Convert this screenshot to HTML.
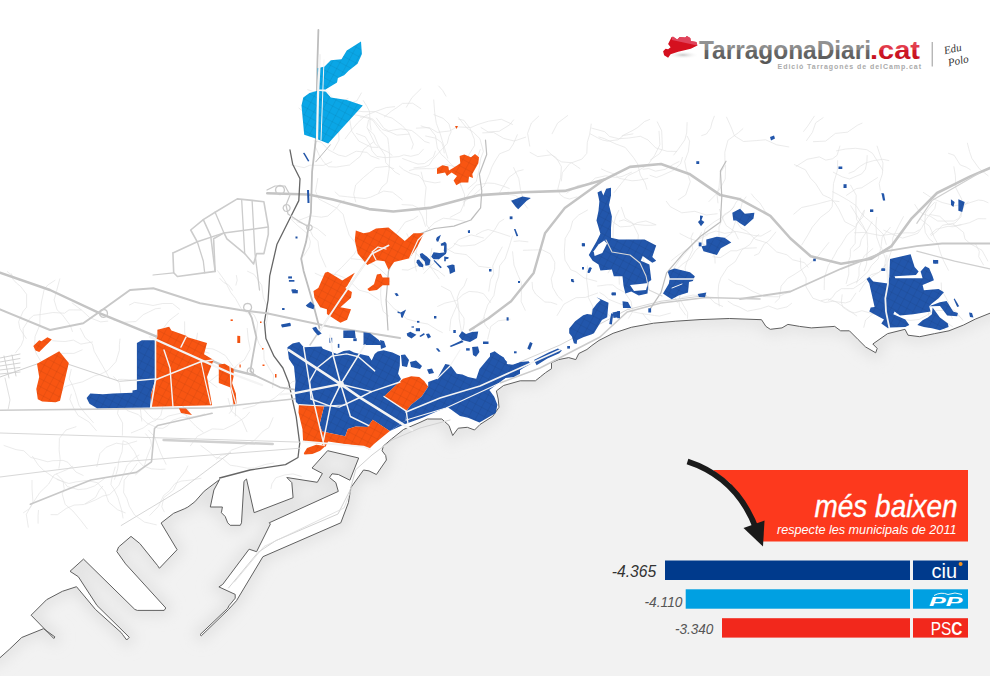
<!DOCTYPE html>
<html><head><meta charset="utf-8"><style>
html,body{margin:0;padding:0;background:#fff;}
#wrap{position:relative;width:990px;height:676px;overflow:hidden;font-family:"Liberation Sans",sans-serif;}
svg{position:absolute;left:0;top:0;}
</style></head><body><div id="wrap">
<svg width="990" height="676" viewBox="0 0 990 676">
<defs><filter id="sh" x="-5%" y="-5%" width="110%" height="110%"><feGaussianBlur stdDeviation="7"/></filter><clipPath id="seaclip"><polygon points="-20.0,700.0 -20.0,666.0 0.0,657.7 9.3,649.4 21.7,637.5 43.5,628.7 54.9,636.9 53.8,638.5 31.1,615.2 46.6,599.7 62.4,591.3 76.5,586.7 95.5,609.5 121.3,632.7 122.7,634.7 126.7,640.0 129.3,637.3 97.0,605.5 78.3,576.7 70.0,571.3 83.5,559.1 134.8,609.4 137.3,610.4 164.2,610.4 165.8,608.0 125.6,563.9 116.8,551.5 118.6,547.0 131.0,536.4 139.8,543.5 157.6,565.6 159.4,568.3 177.1,549.7 161.1,523.0 173.6,513.3 184.2,508.9 187.8,507.1 194.8,501.8 204.2,491.2 219.6,479.5 213.9,490.0 210.3,507.0 222.4,507.0 221.4,512.7 225.2,516.5 227.7,522.8 230.2,525.3 240.3,525.3 241.5,522.8 244.0,481.3 246.5,479.0 254.1,512.7 293.1,497.7 291.8,482.6 286.8,477.5 317.3,482.3 322.4,473.5 312.0,468.0 327.6,450.7 358.7,458.0 349.9,480.2 338.4,474.5 332.0,473.8 329.5,477.5 335.8,482.6 338.3,491.4 269.2,522.8 270.4,524.0 256.6,551.7 249.1,549.2 222.7,584.4 218.9,586.9 235.2,594.4 235.2,598.2 229.0,605.7 227.7,608.3 200.0,634.7 201.3,635.8 228.5,609.5 236.5,600.7 262.9,556.7 340.8,522.8 348.4,502.7 350.9,487.6 363.5,470.0 369.0,470.9 376.4,474.5 386.4,460.0 385.7,455.5 382.1,450.8 383.3,446.1 391.6,439.0 403.5,429.5 420.0,422.4 427.3,419.0 441.8,419.0 449.0,425.5 452.7,435.5 458.2,428.2 467.3,427.3 474.5,430.0 480.0,424.5 492.7,416.4 499.0,407.3 498.2,399.0 496.4,390.9 503.6,385.5 520.2,380.8 535.4,380.8 540.4,376.8 545.5,372.7 551.5,368.7 551.5,362.6 558.6,359.6 568.7,357.6 575.8,359.6 578.8,353.5 586.9,349.5 591.9,345.5 599.0,340.4 613.1,333.3 631.3,327.3 653.5,323.2 675.8,321.2 700.0,319.6 729.3,318.5 761.5,319.7 765.9,326.4 770.3,329.3 782.0,327.9 787.9,324.4 799.6,326.4 811.3,327.9 834.7,326.4 840.6,330.8 849.4,330.8 858.2,339.6 865.5,346.9 875.7,352.8 877.2,348.4 872.8,344.0 887.5,333.7 905.0,329.3 908.0,335.2 919.7,336.7 934.3,333.7 949.0,330.8 963.6,325.0 975.3,319.1 990.0,313.2 1020.0,301.0 1020.0,700.0" /></clipPath></defs>
<polygon points="-20.0,700.0 -20.0,666.0 0.0,657.7 9.3,649.4 21.7,637.5 43.5,628.7 54.9,636.9 53.8,638.5 31.1,615.2 46.6,599.7 62.4,591.3 76.5,586.7 95.5,609.5 121.3,632.7 122.7,634.7 126.7,640.0 129.3,637.3 97.0,605.5 78.3,576.7 70.0,571.3 83.5,559.1 134.8,609.4 137.3,610.4 164.2,610.4 165.8,608.0 125.6,563.9 116.8,551.5 118.6,547.0 131.0,536.4 139.8,543.5 157.6,565.6 159.4,568.3 177.1,549.7 161.1,523.0 173.6,513.3 184.2,508.9 187.8,507.1 194.8,501.8 204.2,491.2 219.6,479.5 213.9,490.0 210.3,507.0 222.4,507.0 221.4,512.7 225.2,516.5 227.7,522.8 230.2,525.3 240.3,525.3 241.5,522.8 244.0,481.3 246.5,479.0 254.1,512.7 293.1,497.7 291.8,482.6 286.8,477.5 317.3,482.3 322.4,473.5 312.0,468.0 327.6,450.7 358.7,458.0 349.9,480.2 338.4,474.5 332.0,473.8 329.5,477.5 335.8,482.6 338.3,491.4 269.2,522.8 270.4,524.0 256.6,551.7 249.1,549.2 222.7,584.4 218.9,586.9 235.2,594.4 235.2,598.2 229.0,605.7 227.7,608.3 200.0,634.7 201.3,635.8 228.5,609.5 236.5,600.7 262.9,556.7 340.8,522.8 348.4,502.7 350.9,487.6 363.5,470.0 369.0,470.9 376.4,474.5 386.4,460.0 385.7,455.5 382.1,450.8 383.3,446.1 391.6,439.0 403.5,429.5 420.0,422.4 427.3,419.0 441.8,419.0 449.0,425.5 452.7,435.5 458.2,428.2 467.3,427.3 474.5,430.0 480.0,424.5 492.7,416.4 499.0,407.3 498.2,399.0 496.4,390.9 503.6,385.5 520.2,380.8 535.4,380.8 540.4,376.8 545.5,372.7 551.5,368.7 551.5,362.6 558.6,359.6 568.7,357.6 575.8,359.6 578.8,353.5 586.9,349.5 591.9,345.5 599.0,340.4 613.1,333.3 631.3,327.3 653.5,323.2 675.8,321.2 700.0,319.6 729.3,318.5 761.5,319.7 765.9,326.4 770.3,329.3 782.0,327.9 787.9,324.4 799.6,326.4 811.3,327.9 834.7,326.4 840.6,330.8 849.4,330.8 858.2,339.6 865.5,346.9 875.7,352.8 877.2,348.4 872.8,344.0 887.5,333.7 905.0,329.3 908.0,335.2 919.7,336.7 934.3,333.7 949.0,330.8 963.6,325.0 975.3,319.1 990.0,313.2 1020.0,301.0 1020.0,700.0" fill="#f2f2f2"/>
<g clip-path="url(#seaclip)"><polygon points="-20.0,700.0 -20.0,666.0 0.0,657.7 9.3,649.4 21.7,637.5 43.5,628.7 54.9,636.9 53.8,638.5 31.1,615.2 46.6,599.7 62.4,591.3 76.5,586.7 95.5,609.5 121.3,632.7 122.7,634.7 126.7,640.0 129.3,637.3 97.0,605.5 78.3,576.7 70.0,571.3 83.5,559.1 134.8,609.4 137.3,610.4 164.2,610.4 165.8,608.0 125.6,563.9 116.8,551.5 118.6,547.0 131.0,536.4 139.8,543.5 157.6,565.6 159.4,568.3 177.1,549.7 161.1,523.0 173.6,513.3 184.2,508.9 187.8,507.1 194.8,501.8 204.2,491.2 219.6,479.5 213.9,490.0 210.3,507.0 222.4,507.0 221.4,512.7 225.2,516.5 227.7,522.8 230.2,525.3 240.3,525.3 241.5,522.8 244.0,481.3 246.5,479.0 254.1,512.7 293.1,497.7 291.8,482.6 286.8,477.5 317.3,482.3 322.4,473.5 312.0,468.0 327.6,450.7 358.7,458.0 349.9,480.2 338.4,474.5 332.0,473.8 329.5,477.5 335.8,482.6 338.3,491.4 269.2,522.8 270.4,524.0 256.6,551.7 249.1,549.2 222.7,584.4 218.9,586.9 235.2,594.4 235.2,598.2 229.0,605.7 227.7,608.3 200.0,634.7 201.3,635.8 228.5,609.5 236.5,600.7 262.9,556.7 340.8,522.8 348.4,502.7 350.9,487.6 363.5,470.0 369.0,470.9 376.4,474.5 386.4,460.0 385.7,455.5 382.1,450.8 383.3,446.1 391.6,439.0 403.5,429.5 420.0,422.4 427.3,419.0 441.8,419.0 449.0,425.5 452.7,435.5 458.2,428.2 467.3,427.3 474.5,430.0 480.0,424.5 492.7,416.4 499.0,407.3 498.2,399.0 496.4,390.9 503.6,385.5 520.2,380.8 535.4,380.8 540.4,376.8 545.5,372.7 551.5,368.7 551.5,362.6 558.6,359.6 568.7,357.6 575.8,359.6 578.8,353.5 586.9,349.5 591.9,345.5 599.0,340.4 613.1,333.3 631.3,327.3 653.5,323.2 675.8,321.2 700.0,319.6 729.3,318.5 761.5,319.7 765.9,326.4 770.3,329.3 782.0,327.9 787.9,324.4 799.6,326.4 811.3,327.9 834.7,326.4 840.6,330.8 849.4,330.8 858.2,339.6 865.5,346.9 875.7,352.8 877.2,348.4 872.8,344.0 887.5,333.7 905.0,329.3 908.0,335.2 919.7,336.7 934.3,333.7 949.0,330.8 963.6,325.0 975.3,319.1 990.0,313.2 1020.0,301.0 1020.0,700.0" fill="none" stroke="#e0e0e0" stroke-width="10" filter="url(#sh)"/></g>
<polygon points="-20.0,700.0 -20.0,666.0 0.0,657.7 9.3,649.4 21.7,637.5 43.5,628.7 54.9,636.9 53.8,638.5 31.1,615.2 46.6,599.7 62.4,591.3 76.5,586.7 95.5,609.5 121.3,632.7 122.7,634.7 126.7,640.0 129.3,637.3 97.0,605.5 78.3,576.7 70.0,571.3 83.5,559.1 134.8,609.4 137.3,610.4 164.2,610.4 165.8,608.0 125.6,563.9 116.8,551.5 118.6,547.0 131.0,536.4 139.8,543.5 157.6,565.6 159.4,568.3 177.1,549.7 161.1,523.0 173.6,513.3 184.2,508.9 187.8,507.1 194.8,501.8 204.2,491.2 219.6,479.5 213.9,490.0 210.3,507.0 222.4,507.0 221.4,512.7 225.2,516.5 227.7,522.8 230.2,525.3 240.3,525.3 241.5,522.8 244.0,481.3 246.5,479.0 254.1,512.7 293.1,497.7 291.8,482.6 286.8,477.5 317.3,482.3 322.4,473.5 312.0,468.0 327.6,450.7 358.7,458.0 349.9,480.2 338.4,474.5 332.0,473.8 329.5,477.5 335.8,482.6 338.3,491.4 269.2,522.8 270.4,524.0 256.6,551.7 249.1,549.2 222.7,584.4 218.9,586.9 235.2,594.4 235.2,598.2 229.0,605.7 227.7,608.3 200.0,634.7 201.3,635.8 228.5,609.5 236.5,600.7 262.9,556.7 340.8,522.8 348.4,502.7 350.9,487.6 363.5,470.0 369.0,470.9 376.4,474.5 386.4,460.0 385.7,455.5 382.1,450.8 383.3,446.1 391.6,439.0 403.5,429.5 420.0,422.4 427.3,419.0 441.8,419.0 449.0,425.5 452.7,435.5 458.2,428.2 467.3,427.3 474.5,430.0 480.0,424.5 492.7,416.4 499.0,407.3 498.2,399.0 496.4,390.9 503.6,385.5 520.2,380.8 535.4,380.8 540.4,376.8 545.5,372.7 551.5,368.7 551.5,362.6 558.6,359.6 568.7,357.6 575.8,359.6 578.8,353.5 586.9,349.5 591.9,345.5 599.0,340.4 613.1,333.3 631.3,327.3 653.5,323.2 675.8,321.2 700.0,319.6 729.3,318.5 761.5,319.7 765.9,326.4 770.3,329.3 782.0,327.9 787.9,324.4 799.6,326.4 811.3,327.9 834.7,326.4 840.6,330.8 849.4,330.8 858.2,339.6 865.5,346.9 875.7,352.8 877.2,348.4 872.8,344.0 887.5,333.7 905.0,329.3 908.0,335.2 919.7,336.7 934.3,333.7 949.0,330.8 963.6,325.0 975.3,319.1 990.0,313.2 1020.0,301.0 1020.0,700.0" fill="none" stroke="#606060" stroke-width="1.0"/>
<polyline points="371.2,130.4 370.2,124.7 369.5,111.5 366.9,106.3 363.1,100.3" fill="none" stroke="#e0e0e0" stroke-width="0.65" stroke-linejoin="round"/>
<polyline points="421.2,108.9 412.7,103.2 402.5,103.4 396.9,107.6 391.7,110.9 384.0,117.2" fill="none" stroke="#e0e0e0" stroke-width="0.65" stroke-linejoin="round"/>
<polyline points="425.6,226.7 422.3,216.4 417.6,207.7 412.7,205.2 401.6,204.6" fill="none" stroke="#e0e0e0" stroke-width="0.65" stroke-linejoin="round"/>
<polyline points="394.1,168.8 387.3,166.4 375.3,167.6 369.4,172.5 363.2,177.7 355.6,185.0 353.7,194.4 355.8,202.2" fill="none" stroke="#e0e0e0" stroke-width="0.65" stroke-linejoin="round"/>
<polyline points="505.3,194.1 515.4,195.4 521.6,200.2 527.8,208.5" fill="none" stroke="#e0e0e0" stroke-width="0.65" stroke-linejoin="round"/>
<polyline points="484.8,317.0 476.5,325.1 471.3,333.9" fill="none" stroke="#e0e0e0" stroke-width="0.65" stroke-linejoin="round"/>
<polyline points="457.7,303.5 453.5,313.1 450.8,319.5 449.6,331.1" fill="none" stroke="#e0e0e0" stroke-width="0.65" stroke-linejoin="round"/>
<polyline points="409.2,134.1 396.9,135.1 390.1,132.0 382.2,129.5 373.2,119.3 367.1,117.0 360.0,117.1" fill="none" stroke="#e0e0e0" stroke-width="0.65" stroke-linejoin="round"/>
<polyline points="406.7,233.4 410.7,242.4 412.7,250.0 421.7,259.0 423.4,269.8" fill="none" stroke="#e0e0e0" stroke-width="0.65" stroke-linejoin="round"/>
<polyline points="462.8,202.3 471.3,197.0 477.8,191.5 484.2,185.8 489.8,173.1 491.7,167.4 494.4,162.1 499.6,153.8 509.4,149.9 513.2,144.2 517.5,134.4" fill="none" stroke="#e0e0e0" stroke-width="0.65" stroke-linejoin="round"/>
<polyline points="510.2,236.5 497.0,232.1 488.0,229.5 482.4,231.3 476.0,234.9" fill="none" stroke="#e0e0e0" stroke-width="0.65" stroke-linejoin="round"/>
<polyline points="482.3,132.9 493.5,132.4 503.7,138.4 514.2,141.0 526.1,137.0" fill="none" stroke="#e0e0e0" stroke-width="0.65" stroke-linejoin="round"/>
<polyline points="378.3,147.4 371.2,147.2 358.8,141.1 351.7,131.1 349.7,119.6 344.6,111.4 341.0,107.6 333.6,106.4 322.5,108.5" fill="none" stroke="#e0e0e0" stroke-width="0.65" stroke-linejoin="round"/>
<polyline points="510.4,200.1 518.5,202.1 525.4,201.0" fill="none" stroke="#e0e0e0" stroke-width="0.65" stroke-linejoin="round"/>
<polyline points="437.3,306.6 444.7,303.2 456.8,300.4 463.0,294.5 469.1,291.4 477.9,292.1 483.5,293.7 490.7,302.7" fill="none" stroke="#e0e0e0" stroke-width="0.65" stroke-linejoin="round"/>
<polyline points="401.9,269.7 408.0,270.1 420.0,264.8 426.4,264.9 438.7,271.1 445.0,276.3" fill="none" stroke="#e0e0e0" stroke-width="0.65" stroke-linejoin="round"/>
<polyline points="420.7,125.8 430.0,128.7 435.5,135.7 437.3,148.0 441.1,154.2 446.4,159.0 451.2,164.5 455.8,168.6 457.9,176.6 461.1,186.3" fill="none" stroke="#e0e0e0" stroke-width="0.65" stroke-linejoin="round"/>
<polyline points="498.9,193.8 502.2,188.4 508.9,177.4 517.4,171.2 523.5,169.7" fill="none" stroke="#e0e0e0" stroke-width="0.65" stroke-linejoin="round"/>
<polyline points="326.5,109.5 322.4,98.2 314.5,91.9 307.4,89.6" fill="none" stroke="#e0e0e0" stroke-width="0.65" stroke-linejoin="round"/>
<polyline points="423.6,273.6 433.2,263.8 438.7,259.7 444.2,251.9 452.4,247.1 458.6,239.6 471.1,234.9 483.8,238.0" fill="none" stroke="#e0e0e0" stroke-width="0.65" stroke-linejoin="round"/>
<polyline points="344.6,200.2 339.9,203.4 336.7,208.0 327.7,216.1 321.4,217.2 310.6,215.8 298.5,220.5 291.8,218.6" fill="none" stroke="#e0e0e0" stroke-width="0.65" stroke-linejoin="round"/>
<polyline points="509.6,188.6 503.6,186.2 494.3,183.4 487.6,183.0 476.3,185.1 469.8,192.7 466.8,196.9 462.7,206.7 460.5,211.9 449.8,217.5" fill="none" stroke="#e0e0e0" stroke-width="0.65" stroke-linejoin="round"/>
<polyline points="513.8,119.6 509.7,124.8 499.1,131.3 488.0,131.9 480.7,127.3" fill="none" stroke="#e0e0e0" stroke-width="0.65" stroke-linejoin="round"/>
<polyline points="418.1,216.0 413.5,219.1 405.2,222.1 397.3,233.0 388.4,241.4 385.5,253.7 390.2,265.6" fill="none" stroke="#e0e0e0" stroke-width="0.65" stroke-linejoin="round"/>
<polyline points="399.8,174.7 395.1,172.1 385.7,162.5 384.9,155.2 377.7,143.9 374.1,134.8 367.6,128.5" fill="none" stroke="#e0e0e0" stroke-width="0.65" stroke-linejoin="round"/>
<polyline points="447.9,158.6 446.3,153.7 442.2,140.5 440.2,133.6 436.3,123.3 434.7,112.5 433.7,99.6" fill="none" stroke="#e0e0e0" stroke-width="0.65" stroke-linejoin="round"/>
<polyline points="513.5,167.3 518.8,178.6 520.4,189.2 522.6,197.0 527.5,200.8" fill="none" stroke="#e0e0e0" stroke-width="0.65" stroke-linejoin="round"/>
<polyline points="356.2,133.4 365.2,136.8 370.6,145.6 372.0,150.8 376.9,156.4 385.1,157.7 398.9,156.6 403.9,154.9 410.8,156.3 418.6,154.4 423.7,148.9" fill="none" stroke="#e0e0e0" stroke-width="0.65" stroke-linejoin="round"/>
<polyline points="444.3,153.3 443.4,147.6 441.7,142.5 435.3,138.1 425.3,135.9" fill="none" stroke="#e0e0e0" stroke-width="0.65" stroke-linejoin="round"/>
<polyline points="416.4,271.4 414.5,261.2 416.7,249.9 418.0,242.5 420.1,236.5 428.3,228.6 434.8,222.5 443.3,218.2 455.0,219.4 467.1,221.8" fill="none" stroke="#e0e0e0" stroke-width="0.65" stroke-linejoin="round"/>
<polyline points="303.5,256.3 309.5,246.8 310.4,241.6 307.7,233.8 298.0,225.9 290.3,218.5" fill="none" stroke="#e0e0e0" stroke-width="0.65" stroke-linejoin="round"/>
<polyline points="464.1,206.4 464.6,194.8 460.4,183.9 463.1,174.9 464.4,165.7 468.9,154.7 474.6,145.5 474.3,139.2 470.0,128.3 463.8,120.3 458.4,119.0" fill="none" stroke="#e0e0e0" stroke-width="0.65" stroke-linejoin="round"/>
<polyline points="359.1,252.9 354.9,242.3 349.2,235.2 345.0,221.9 343.2,214.3 336.4,207.9 331.3,205.4 318.9,199.1 315.5,191.3 317.9,178.1" fill="none" stroke="#e0e0e0" stroke-width="0.65" stroke-linejoin="round"/>
<polyline points="316.4,116.2 320.0,111.2 328.4,106.5 339.7,107.0 352.0,102.6 356.9,100.8 361.6,92.6" fill="none" stroke="#e0e0e0" stroke-width="0.65" stroke-linejoin="round"/>
<polyline points="399.2,166.0 403.8,169.9 410.8,173.5 419.1,175.7 423.5,180.8 435.0,182.9 440.5,182.0" fill="none" stroke="#e0e0e0" stroke-width="0.65" stroke-linejoin="round"/>
<polyline points="385.8,299.4 394.3,308.9 399.0,311.6 406.8,319.0 420.1,322.6 427.8,324.0 438.0,330.4 442.7,332.7" fill="none" stroke="#e0e0e0" stroke-width="0.65" stroke-linejoin="round"/>
<polyline points="467.6,189.0 476.3,181.5 478.9,170.2 480.7,158.6 483.4,151.5 479.9,138.7 473.3,132.2 466.8,128.1 458.2,117.3" fill="none" stroke="#e0e0e0" stroke-width="0.65" stroke-linejoin="round"/>
<polyline points="357.2,249.2 354.0,254.3 350.1,258.5 341.7,267.4 335.0,273.5 328.4,283.3 323.7,292.1 322.8,298.6 321.2,306.3" fill="none" stroke="#e0e0e0" stroke-width="0.65" stroke-linejoin="round"/>
<polyline points="381.0,285.2 380.6,293.9 381.3,303.6 383.2,311.4 388.9,316.3" fill="none" stroke="#e0e0e0" stroke-width="0.65" stroke-linejoin="round"/>
<polyline points="512.9,124.6 501.4,119.3 488.5,121.2 478.1,124.4 470.9,127.5 457.2,126.9 449.4,131.0 437.3,132.4 429.2,127.5 415.9,128.2" fill="none" stroke="#e0e0e0" stroke-width="0.65" stroke-linejoin="round"/>
<polyline points="504.2,219.0 499.1,222.2 494.2,230.5 484.6,240.0 474.9,244.9 465.9,245.8 460.5,246.0 453.9,243.4" fill="none" stroke="#e0e0e0" stroke-width="0.65" stroke-linejoin="round"/>
<polyline points="502.4,246.7 497.6,255.2 492.7,266.0 493.7,273.6 490.5,279.6 488.7,291.5" fill="none" stroke="#e0e0e0" stroke-width="0.65" stroke-linejoin="round"/>
<polyline points="300.3,221.3 309.0,227.6 312.8,236.1 317.9,241.2 319.5,252.4 321.5,257.2 326.0,267.3" fill="none" stroke="#e0e0e0" stroke-width="0.65" stroke-linejoin="round"/>
<polyline points="392.4,155.5 388.2,152.2 380.3,148.4 375.1,144.0 370.0,133.6 367.0,127.4 368.6,119.8" fill="none" stroke="#e0e0e0" stroke-width="0.65" stroke-linejoin="round"/>
<polyline points="480.4,149.2 478.3,154.8 472.9,163.8 464.6,168.1 459.1,167.6 446.1,164.6 441.3,166.6 432.9,168.8 426.2,168.6 414.8,169.0 409.1,170.7" fill="none" stroke="#e0e0e0" stroke-width="0.65" stroke-linejoin="round"/>
<polyline points="317.5,133.9 314.7,145.3 319.2,155.3 323.8,162.3 328.6,166.7 336.1,167.1 349.5,165.0 360.1,156.4 363.9,149.1 373.8,141.7" fill="none" stroke="#e0e0e0" stroke-width="0.65" stroke-linejoin="round"/>
<polyline points="395.1,106.6 386.2,107.6 375.3,111.6 365.4,115.7 357.6,122.9 352.2,129.3 344.9,139.1" fill="none" stroke="#e0e0e0" stroke-width="0.65" stroke-linejoin="round"/>
<polyline points="313.6,140.8 321.0,142.1 328.3,149.7 338.4,155.0 345.7,156.6 356.2,151.2 366.9,152.4 370.8,155.9 379.5,159.1" fill="none" stroke="#e0e0e0" stroke-width="0.65" stroke-linejoin="round"/>
<polyline points="510.5,319.2 498.3,320.8 490.7,326.5 487.6,339.5" fill="none" stroke="#e0e0e0" stroke-width="0.65" stroke-linejoin="round"/>
<polyline points="333.3,150.5 339.1,140.0 338.6,133.2 340.5,126.2 338.7,121.2 336.6,113.6 341.8,101.7 348.3,98.3" fill="none" stroke="#e0e0e0" stroke-width="0.65" stroke-linejoin="round"/>
<polyline points="318.5,117.7 313.3,113.7 304.2,112.4 298.7,107.9" fill="none" stroke="#e0e0e0" stroke-width="0.65" stroke-linejoin="round"/>
<polyline points="467.1,278.2 464.1,286.0 459.7,291.2 457.2,298.0 459.0,310.8 459.2,318.8 461.6,332.5" fill="none" stroke="#e0e0e0" stroke-width="0.65" stroke-linejoin="round"/>
<polyline points="411.6,149.4 413.3,144.3 408.5,132.3 402.3,125.7 392.0,118.0 386.7,116.5 375.3,111.6 369.6,111.7 363.0,111.7 351.2,110.1" fill="none" stroke="#e0e0e0" stroke-width="0.65" stroke-linejoin="round"/>
<polyline points="446.2,96.5 442.7,90.5 438.5,85.8" fill="none" stroke="#e0e0e0" stroke-width="0.65" stroke-linejoin="round"/>
<polyline points="431.9,248.1 430.5,256.7 430.8,267.3 433.9,271.6 439.3,279.2" fill="none" stroke="#e0e0e0" stroke-width="0.65" stroke-linejoin="round"/>
<polyline points="389.8,282.0 387.8,276.5 379.6,268.8 373.5,264.4 360.8,259.6 350.8,258.7" fill="none" stroke="#e0e0e0" stroke-width="0.65" stroke-linejoin="round"/>
<polyline points="378.6,192.9 382.0,187.0 387.1,182.5 389.1,169.5 389.7,157.2 388.6,144.3 387.7,137.9 380.5,131.0 372.8,120.3 362.9,116.4 353.6,114.6" fill="none" stroke="#e0e0e0" stroke-width="0.65" stroke-linejoin="round"/>
<polyline points="332.1,161.6 323.5,165.4 309.8,165.2 304.2,167.7 290.7,164.8" fill="none" stroke="#e0e0e0" stroke-width="0.65" stroke-linejoin="round"/>
<polyline points="406.2,107.5 411.9,97.7 421.2,88.5" fill="none" stroke="#e0e0e0" stroke-width="0.65" stroke-linejoin="round"/>
<polyline points="436.6,239.5 441.5,244.4 449.2,250.2 454.6,253.1 466.1,254.6 470.2,258.0 478.7,266.3 491.1,267.9" fill="none" stroke="#e0e0e0" stroke-width="0.65" stroke-linejoin="round"/>
<polyline points="325.9,235.9 317.6,228.9 311.1,225.8 303.1,223.5 296.7,221.7" fill="none" stroke="#e0e0e0" stroke-width="0.65" stroke-linejoin="round"/>
<polyline points="402.4,200.0 397.2,195.8 392.5,192.2 383.7,191.1 375.6,194.9 370.7,197.1 365.1,198.5 353.2,197.4 347.7,196.8 339.4,195.9 334.8,191.7" fill="none" stroke="#e0e0e0" stroke-width="0.65" stroke-linejoin="round"/>
<polyline points="488.6,329.1 484.8,324.2 483.9,316.7 487.6,305.1 493.9,295.5 496.2,283.2 498.7,276.3 499.6,265.9 505.2,258.7 509.5,245.7 512.5,235.8" fill="none" stroke="#e0e0e0" stroke-width="0.65" stroke-linejoin="round"/>
<polyline points="435.5,150.8 433.4,156.9 424.5,163.5 418.0,164.1 412.3,162.2 402.2,158.4" fill="none" stroke="#e0e0e0" stroke-width="0.65" stroke-linejoin="round"/>
<polyline points="379.2,300.1 368.4,292.6 359.0,290.1 350.6,282.0 343.6,277.4 337.7,275.0 332.1,274.0 321.8,276.3 314.8,273.1" fill="none" stroke="#e0e0e0" stroke-width="0.65" stroke-linejoin="round"/>
<polyline points="413.5,167.9 424.5,166.8 429.2,165.1 432.6,159.7 438.4,153.1 447.3,143.4 448.9,136.6 451.1,131.9 449.0,123.9 443.1,118.3 433.6,114.5" fill="none" stroke="#e0e0e0" stroke-width="0.65" stroke-linejoin="round"/>
<polyline points="429.6,143.0 424.7,141.5 416.2,133.9 411.8,130.6 400.9,128.8 388.8,130.9 383.9,128.3 376.2,117.8" fill="none" stroke="#e0e0e0" stroke-width="0.65" stroke-linejoin="round"/>
<polyline points="430.8,230.9 426.7,225.0 426.5,219.6 426.6,210.9 424.6,205.8 424.8,200.7 426.1,187.3 423.4,181.0 421.1,171.7" fill="none" stroke="#e0e0e0" stroke-width="0.65" stroke-linejoin="round"/>
<polyline points="441.1,286.1 450.5,291.1 455.0,301.8 459.0,310.7 464.0,318.1 464.1,323.8 462.9,330.3" fill="none" stroke="#e0e0e0" stroke-width="0.65" stroke-linejoin="round"/>
<polyline points="988.4,176.0 979.2,168.6 971.9,158.4 969.5,151.4 967.3,142.8" fill="none" stroke="#e0e0e0" stroke-width="0.65" stroke-linejoin="round"/>
<polyline points="890.6,227.0 882.2,237.0 881.1,246.5 885.6,258.9 884.7,265.7 889.1,278.1 895.1,284.2 900.1,291.0 902.0,304.1 895.6,315.0" fill="none" stroke="#e0e0e0" stroke-width="0.65" stroke-linejoin="round"/>
<polyline points="772.1,217.1 765.2,211.4 759.8,202.8 754.7,198.1 751.2,193.6" fill="none" stroke="#e0e0e0" stroke-width="0.65" stroke-linejoin="round"/>
<polyline points="948.1,153.2 954.2,155.3 960.2,164.9 966.1,167.1 970.6,169.9" fill="none" stroke="#e0e0e0" stroke-width="0.65" stroke-linejoin="round"/>
<polyline points="551.9,134.1 557.6,123.1 568.0,115.3" fill="none" stroke="#e0e0e0" stroke-width="0.65" stroke-linejoin="round"/>
<polyline points="949.8,309.1 954.9,310.5 963.2,320.7" fill="none" stroke="#e0e0e0" stroke-width="0.65" stroke-linejoin="round"/>
<polyline points="873.2,248.3 864.2,256.0 860.8,263.0 859.0,267.9 859.0,275.5 856.5,283.4" fill="none" stroke="#e0e0e0" stroke-width="0.65" stroke-linejoin="round"/>
<polyline points="670.8,313.0 659.5,316.1 654.3,315.5 648.5,314.5 643.1,313.9 631.9,311.6 623.9,305.3 615.5,302.1 608.5,299.2 604.5,295.4 599.5,292.4" fill="none" stroke="#e0e0e0" stroke-width="0.65" stroke-linejoin="round"/>
<polyline points="846.7,285.9 858.1,280.8 868.0,271.6 871.4,265.6 878.1,258.9 880.7,248.5 876.7,237.1 875.9,225.0 876.8,216.9" fill="none" stroke="#e0e0e0" stroke-width="0.65" stroke-linejoin="round"/>
<polyline points="708.6,201.9 716.1,194.2 720.5,187.8 725.2,179.1 725.6,165.2" fill="none" stroke="#e0e0e0" stroke-width="0.65" stroke-linejoin="round"/>
<polyline points="673.5,155.3 678.4,149.0 684.8,139.9 686.7,133.0 687.1,122.2" fill="none" stroke="#e0e0e0" stroke-width="0.65" stroke-linejoin="round"/>
<polyline points="645.7,272.2 645.7,265.8 642.9,258.3 640.9,252.2 637.3,246.6 638.4,235.1 632.4,222.8 625.2,218.3 621.2,206.9" fill="none" stroke="#e0e0e0" stroke-width="0.65" stroke-linejoin="round"/>
<polyline points="864.6,209.8 862.9,217.1 856.4,223.7 855.2,236.3 855.2,243.3 850.4,249.3 850.3,256.6 848.6,261.3 848.8,274.0 846.1,283.9" fill="none" stroke="#e0e0e0" stroke-width="0.65" stroke-linejoin="round"/>
<polyline points="824.2,290.0 824.4,278.0 828.1,265.9 833.7,256.7 837.3,249.8 840.9,245.1 847.2,234.9 855.2,227.8 859.5,220.1 863.9,210.5" fill="none" stroke="#e0e0e0" stroke-width="0.65" stroke-linejoin="round"/>
<polyline points="712.4,256.7 720.3,257.6 730.8,250.8 736.8,250.8 743.3,248.4 756.8,247.8" fill="none" stroke="#e0e0e0" stroke-width="0.65" stroke-linejoin="round"/>
<polyline points="613.9,192.9 621.0,183.9 627.8,175.6 636.6,171.6 648.2,164.5 654.6,155.4 659.9,144.8 659.0,130.9" fill="none" stroke="#e0e0e0" stroke-width="0.65" stroke-linejoin="round"/>
<polyline points="687.1,136.0 689.6,141.1 688.3,151.7 684.7,161.3 686.1,168.9 690.3,181.7 685.7,194.9 678.1,200.0" fill="none" stroke="#e0e0e0" stroke-width="0.65" stroke-linejoin="round"/>
<polyline points="597.3,306.2 604.8,311.6 610.2,316.2 611.9,324.2" fill="none" stroke="#e0e0e0" stroke-width="0.65" stroke-linejoin="round"/>
<polyline points="903.6,216.3 898.0,226.9 892.8,237.8 892.0,249.1 887.5,262.2 882.4,270.0 872.1,276.5 864.2,284.0 859.2,291.9" fill="none" stroke="#e0e0e0" stroke-width="0.65" stroke-linejoin="round"/>
<polyline points="813.0,141.7 825.7,141.1 835.4,133.4 847.4,132.2 857.7,125.1 862.4,123.0" fill="none" stroke="#e0e0e0" stroke-width="0.65" stroke-linejoin="round"/>
<polyline points="525.4,310.6 521.1,301.4 521.4,294.7 521.3,282.6 517.8,274.8 514.0,265.0 512.5,251.3" fill="none" stroke="#e0e0e0" stroke-width="0.65" stroke-linejoin="round"/>
<polyline points="562.5,300.8 557.7,296.1 552.8,287.6 551.2,278.8 554.6,269.4 554.8,262.3 550.4,253.9 542.2,249.8 532.8,250.0 522.9,250.3" fill="none" stroke="#e0e0e0" stroke-width="0.65" stroke-linejoin="round"/>
<polyline points="837.7,160.2 837.3,170.7 833.5,183.5 832.8,197.3 832.2,206.7 829.1,211.0 820.6,217.3 812.3,227.1 807.8,235.1 801.5,245.3" fill="none" stroke="#e0e0e0" stroke-width="0.65" stroke-linejoin="round"/>
<polyline points="619.0,209.9 615.7,216.7 613.3,225.8 613.0,239.7 608.8,246.6 607.6,256.0 610.3,262.1 610.9,268.3 607.9,273.2" fill="none" stroke="#e0e0e0" stroke-width="0.65" stroke-linejoin="round"/>
<polyline points="988.4,202.8 983.3,200.6 978.3,200.0 965.7,204.0 954.9,205.7 942.1,202.5 932.4,198.4 923.0,192.2" fill="none" stroke="#e0e0e0" stroke-width="0.65" stroke-linejoin="round"/>
<polyline points="800.3,257.8 800.8,268.4 806.1,278.0 806.0,286.8 812.9,298.2 825.1,302.5 832.7,301.3 845.4,302.9 850.4,301.3 856.0,292.9" fill="none" stroke="#e0e0e0" stroke-width="0.65" stroke-linejoin="round"/>
<polyline points="791.8,303.2 787.0,306.9 777.1,309.2 768.6,306.0 760.6,308.6 747.4,311.2 739.2,306.9 733.6,304.8 727.8,301.1" fill="none" stroke="#e0e0e0" stroke-width="0.65" stroke-linejoin="round"/>
<polyline points="591.3,128.0 604.7,131.7 609.7,136.5 618.7,138.7 628.8,138.0 640.4,136.3 647.9,139.9 655.7,147.9 667.1,151.3 677.1,151.4" fill="none" stroke="#e0e0e0" stroke-width="0.65" stroke-linejoin="round"/>
<polyline points="754.1,255.6 758.8,253.6 764.1,244.1 768.7,240.8 776.0,231.8" fill="none" stroke="#e0e0e0" stroke-width="0.65" stroke-linejoin="round"/>
<polyline points="598.0,292.9 585.3,297.4 576.0,297.7 564.0,304.1 556.9,315.8" fill="none" stroke="#e0e0e0" stroke-width="0.65" stroke-linejoin="round"/>
<polyline points="597.1,281.4 584.0,277.9 576.0,271.8 570.8,269.8 565.0,260.1 564.3,252.2 565.2,238.4 570.4,229.4 572.7,220.8 578.7,215.0 587.8,209.9" fill="none" stroke="#e0e0e0" stroke-width="0.65" stroke-linejoin="round"/>
<polyline points="941.2,282.5 941.5,289.9 948.1,301.4 949.9,313.3 952.6,318.9" fill="none" stroke="#e0e0e0" stroke-width="0.65" stroke-linejoin="round"/>
<polyline points="771.2,230.3 761.0,236.1 753.9,235.5 743.2,232.8 736.4,231.5 724.8,233.3 716.0,231.0 704.3,234.9" fill="none" stroke="#e0e0e0" stroke-width="0.65" stroke-linejoin="round"/>
<polyline points="882.9,170.4 878.0,162.1 872.5,153.3 866.8,149.7 855.6,148.3 845.6,149.0 836.1,150.9" fill="none" stroke="#e0e0e0" stroke-width="0.65" stroke-linejoin="round"/>
<polyline points="590.0,133.7 597.4,137.7 602.6,140.1 607.7,141.1 618.1,139.8 623.4,135.5 633.3,133.8" fill="none" stroke="#e0e0e0" stroke-width="0.65" stroke-linejoin="round"/>
<polyline points="795.8,166.6 807.1,159.3 819.3,156.9 825.8,160.1 832.5,158.8 837.1,155.3 840.0,145.7" fill="none" stroke="#e0e0e0" stroke-width="0.65" stroke-linejoin="round"/>
<polyline points="929.2,214.4 939.8,216.3 948.0,224.1 955.7,225.7 961.4,224.6" fill="none" stroke="#e0e0e0" stroke-width="0.65" stroke-linejoin="round"/>
<polyline points="952.8,223.8 963.5,232.3 965.0,239.1 970.5,243.9 982.0,250.3 988.0,261.3" fill="none" stroke="#e0e0e0" stroke-width="0.65" stroke-linejoin="round"/>
<polyline points="853.5,251.1 859.8,246.3 861.3,239.7 866.9,231.1 872.1,221.5" fill="none" stroke="#e0e0e0" stroke-width="0.65" stroke-linejoin="round"/>
<polyline points="741.2,197.5 736.3,201.8 733.4,207.3 729.9,211.1 724.1,214.5 719.0,226.9 719.0,240.3" fill="none" stroke="#e0e0e0" stroke-width="0.65" stroke-linejoin="round"/>
<polyline points="927.4,298.3 928.1,311.6 929.2,316.7 939.1,326.2 945.3,329.7" fill="none" stroke="#e0e0e0" stroke-width="0.65" stroke-linejoin="round"/>
<polyline points="676.0,268.5 678.3,274.4 677.1,281.7 676.9,288.1 680.5,300.2 683.7,305.8 687.7,312.6 687.5,318.6" fill="none" stroke="#e0e0e0" stroke-width="0.65" stroke-linejoin="round"/>
<polyline points="874.8,314.3 861.9,310.7 854.7,312.9 849.3,311.5 842.9,307.3 841.3,302.4 842.2,294.4" fill="none" stroke="#e0e0e0" stroke-width="0.65" stroke-linejoin="round"/>
<polyline points="650.1,160.2 659.5,153.7 662.4,148.8 662.0,138.4 661.7,130.9 657.1,121.5" fill="none" stroke="#e0e0e0" stroke-width="0.65" stroke-linejoin="round"/>
<polyline points="794.0,164.4 805.4,169.8 810.4,178.1 815.6,183.5 822.8,194.9 830.7,198.5 835.0,203.0 838.8,209.2 844.8,221.7 854.9,226.8" fill="none" stroke="#e0e0e0" stroke-width="0.65" stroke-linejoin="round"/>
<polyline points="790.2,292.3 784.7,293.7 778.3,296.8 765.0,296.6 753.3,291.6 741.9,285.2 736.0,283.9 728.3,279.2" fill="none" stroke="#e0e0e0" stroke-width="0.65" stroke-linejoin="round"/>
<polyline points="532.1,281.9 532.6,288.9 535.5,294.0 544.9,302.0 550.8,302.3 557.2,304.5" fill="none" stroke="#e0e0e0" stroke-width="0.65" stroke-linejoin="round"/>
<polyline points="528.3,241.9 519.4,240.9 513.6,241.4" fill="none" stroke="#e0e0e0" stroke-width="0.65" stroke-linejoin="round"/>
<polyline points="738.5,239.3 734.7,231.5 726.2,225.6 723.4,219.9 719.3,209.0" fill="none" stroke="#e0e0e0" stroke-width="0.65" stroke-linejoin="round"/>
<polyline points="597.2,286.1 607.5,284.8 612.9,284.9 617.1,288.4 624.7,292.4 631.2,301.8 632.5,311.8 628.3,318.6" fill="none" stroke="#e0e0e0" stroke-width="0.65" stroke-linejoin="round"/>
<polyline points="708.3,234.4 696.3,240.4 690.2,246.7 683.5,251.6 678.8,254.7 671.3,260.6" fill="none" stroke="#e0e0e0" stroke-width="0.65" stroke-linejoin="round"/>
<polyline points="529.8,152.2 537.7,156.6 551.4,154.8 556.1,157.5 561.4,166.7 560.7,177.3 557.8,189.2 560.2,194.6 564.3,197.6 569.5,199.0 577.3,196.8" fill="none" stroke="#e0e0e0" stroke-width="0.65" stroke-linejoin="round"/>
<polyline points="598.5,136.8 604.0,138.5 616.1,144.1 625.2,147.4 633.5,157.6 637.6,163.9 640.4,175.2 645.1,183.0 647.0,189.7" fill="none" stroke="#e0e0e0" stroke-width="0.65" stroke-linejoin="round"/>
<polyline points="701.7,232.0 697.6,240.3 693.5,243.6 689.3,248.8 680.1,259.0 672.6,270.0 671.0,283.5 672.0,291.4 677.6,303.0" fill="none" stroke="#e0e0e0" stroke-width="0.65" stroke-linejoin="round"/>
<polyline points="621.6,136.1 633.0,130.3 637.8,127.4 644.6,121.5 650.1,119.3" fill="none" stroke="#e0e0e0" stroke-width="0.65" stroke-linejoin="round"/>
<polyline points="867.2,155.1 866.9,161.9 865.4,169.3 861.7,173.9 849.5,179.0 842.4,176.9 832.9,172.0" fill="none" stroke="#e0e0e0" stroke-width="0.65" stroke-linejoin="round"/>
<polyline points="850.6,205.5 856.0,214.3 863.2,225.9 867.0,233.8 867.7,246.7 866.9,255.0 866.6,264.1 864.1,271.3" fill="none" stroke="#e0e0e0" stroke-width="0.65" stroke-linejoin="round"/>
<polyline points="703.6,233.3 701.8,244.9 695.5,250.5 690.3,258.8 682.9,263.8 677.7,268.6 670.2,271.0" fill="none" stroke="#e0e0e0" stroke-width="0.65" stroke-linejoin="round"/>
<polyline points="975.4,243.6 979.3,251.5 978.7,256.6 983.7,265.3" fill="none" stroke="#e0e0e0" stroke-width="0.65" stroke-linejoin="round"/>
<polyline points="883.5,230.0 894.0,235.0 902.6,238.1 913.2,234.9 918.0,233.1 922.0,227.3 926.4,218.8 934.8,208.5 936.2,201.9" fill="none" stroke="#e0e0e0" stroke-width="0.65" stroke-linejoin="round"/>
<polyline points="718.0,203.3 716.9,193.6 719.0,187.4 720.1,173.7 725.0,165.4 724.8,152.3 727.9,140.3 738.4,132.7 743.2,128.4" fill="none" stroke="#e0e0e0" stroke-width="0.65" stroke-linejoin="round"/>
<polyline points="656.3,224.8 650.7,225.3 644.8,225.3 634.2,224.2 623.9,219.8 619.0,221.2" fill="none" stroke="#e0e0e0" stroke-width="0.65" stroke-linejoin="round"/>
<polyline points="854.0,232.8 864.3,232.4 870.9,233.7 880.7,235.6 891.4,234.1 905.3,232.8 914.0,232.9 919.6,229.7" fill="none" stroke="#e0e0e0" stroke-width="0.65" stroke-linejoin="round"/>
<polyline points="877.0,145.8 879.9,154.7 883.0,163.1 882.4,173.9 879.2,183.6 880.4,190.6" fill="none" stroke="#e0e0e0" stroke-width="0.65" stroke-linejoin="round"/>
<polyline points="701.3,135.7 706.4,134.0 710.6,128.2 712.1,122.0 714.5,115.8" fill="none" stroke="#e0e0e0" stroke-width="0.65" stroke-linejoin="round"/>
<polyline points="734.1,206.6 730.5,210.9 721.6,217.5 714.1,221.9 705.1,228.9 702.0,241.3 704.2,247.5 706.6,251.9" fill="none" stroke="#e0e0e0" stroke-width="0.65" stroke-linejoin="round"/>
<polyline points="934.7,202.2 928.9,208.4 925.6,212.9 924.4,225.3 925.3,232.5 929.2,238.9 933.4,242.2" fill="none" stroke="#e0e0e0" stroke-width="0.65" stroke-linejoin="round"/>
<polyline points="832.2,191.6 838.3,194.6 848.7,200.6 856.3,205.8 860.1,211.9 864.8,217.0 873.0,223.9 878.3,229.4 883.2,234.2 886.4,244.8" fill="none" stroke="#e0e0e0" stroke-width="0.65" stroke-linejoin="round"/>
<polyline points="962.8,319.6 956.6,314.1 946.8,310.3 934.0,310.7 925.8,315.8 919.3,319.4 910.9,320.4 900.8,319.4" fill="none" stroke="#e0e0e0" stroke-width="0.65" stroke-linejoin="round"/>
<polyline points="666.1,201.0 670.3,206.7 681.8,212.8 694.9,211.3 706.2,215.0 717.6,213.7" fill="none" stroke="#e0e0e0" stroke-width="0.65" stroke-linejoin="round"/>
<polyline points="561.3,181.3 562.3,172.7 569.9,163.4 581.9,159.1 586.8,153.4 587.3,142.3 589.6,134.5 591.3,123.7" fill="none" stroke="#e0e0e0" stroke-width="0.65" stroke-linejoin="round"/>
<polyline points="848.6,173.4 854.1,171.2 859.8,166.5 865.8,162.9 874.1,160.5 882.9,159.3 889.2,160.7" fill="none" stroke="#e0e0e0" stroke-width="0.65" stroke-linejoin="round"/>
<polyline points="867.0,232.7 862.7,227.2 856.6,219.6 855.8,208.6 856.2,195.2 850.4,184.8" fill="none" stroke="#e0e0e0" stroke-width="0.65" stroke-linejoin="round"/>
<polyline points="828.0,300.7 832.4,297.5 835.7,292.5 841.4,288.7 853.2,288.6 862.6,282.4 871.3,274.6 878.6,272.6 887.5,262.4" fill="none" stroke="#e0e0e0" stroke-width="0.65" stroke-linejoin="round"/>
<polyline points="719.3,306.4 718.0,293.9 718.7,284.4 720.8,277.9 727.6,267.2 735.2,261.7 741.9,249.9 750.2,244.3 753.4,238.7 759.1,234.3" fill="none" stroke="#e0e0e0" stroke-width="0.65" stroke-linejoin="round"/>
<polyline points="642.3,312.9 646.4,318.4 651.3,322.2" fill="none" stroke="#e0e0e0" stroke-width="0.65" stroke-linejoin="round"/>
<polyline points="631.8,172.1 622.0,176.5 615.8,177.4 605.6,175.8 595.2,178.1 588.7,184.0 577.7,185.5 566.4,193.4" fill="none" stroke="#e0e0e0" stroke-width="0.65" stroke-linejoin="round"/>
<polyline points="914.6,204.2 919.0,211.1 923.6,214.2 930.1,216.1 937.7,221.0 945.7,221.1 953.9,221.0 958.9,218.4 964.4,205.5 968.3,201.3" fill="none" stroke="#e0e0e0" stroke-width="0.65" stroke-linejoin="round"/>
<polyline points="857.1,316.1 845.8,308.4 835.8,301.7 828.0,299.0 820.7,300.8" fill="none" stroke="#e0e0e0" stroke-width="0.65" stroke-linejoin="round"/>
<polyline points="808.3,267.5 804.4,262.6 792.7,259.8 786.9,254.8 776.6,251.9 766.9,242.8 755.3,239.3 746.8,231.3 741.0,228.1 736.5,221.6" fill="none" stroke="#e0e0e0" stroke-width="0.65" stroke-linejoin="round"/>
<polyline points="693.2,232.5 691.0,237.5 692.8,249.6 686.8,262.3 685.1,267.5 685.9,276.3 682.7,289.8 678.7,299.7 679.6,306.7 685.9,315.4" fill="none" stroke="#e0e0e0" stroke-width="0.65" stroke-linejoin="round"/>
<polyline points="919.8,218.5 929.6,226.3 934.3,237.5 937.9,244.1 940.6,253.4 943.6,260.8 948.6,270.6" fill="none" stroke="#e0e0e0" stroke-width="0.65" stroke-linejoin="round"/>
<polyline points="908.3,301.3 919.8,305.4 928.2,310.9 936.7,316.0 944.2,320.8 952.9,326.9" fill="none" stroke="#e0e0e0" stroke-width="0.65" stroke-linejoin="round"/>
<polyline points="806.3,140.9 812.4,132.4 815.7,122.8 823.4,117.5" fill="none" stroke="#e0e0e0" stroke-width="0.65" stroke-linejoin="round"/>
<polyline points="681.4,297.6 692.8,295.1 699.1,295.5 709.0,297.1 714.8,302.9 723.0,306.6" fill="none" stroke="#e0e0e0" stroke-width="0.65" stroke-linejoin="round"/>
<polyline points="642.7,169.3 648.7,168.5 655.4,171.2 665.0,169.4 673.1,164.5 679.4,161.4" fill="none" stroke="#e0e0e0" stroke-width="0.65" stroke-linejoin="round"/>
<polyline points="789.2,147.0 776.7,144.8 765.6,139.8 756.1,140.6 743.6,141.5 734.5,135.9 731.0,126.9 726.4,116.8" fill="none" stroke="#e0e0e0" stroke-width="0.65" stroke-linejoin="round"/>
<polyline points="610.1,217.6 613.2,222.2 620.1,226.9 630.4,226.2 637.2,222.6 645.9,221.0 655.8,224.7" fill="none" stroke="#e0e0e0" stroke-width="0.65" stroke-linejoin="round"/>
<polyline points="929.9,234.8 936.1,229.3 948.0,226.3 953.1,226.8 960.0,225.0 969.5,222.7 978.0,218.7 986.2,218.8" fill="none" stroke="#e0e0e0" stroke-width="0.65" stroke-linejoin="round"/>
<polyline points="803.4,131.7 807.6,126.3 814.5,115.9" fill="none" stroke="#e0e0e0" stroke-width="0.65" stroke-linejoin="round"/>
<polyline points="529.8,146.5 527.6,133.3 531.4,123.0 538.9,116.0" fill="none" stroke="#e0e0e0" stroke-width="0.65" stroke-linejoin="round"/>
<polyline points="877.9,177.4 872.5,180.8 861.7,187.8 856.4,188.6 846.2,195.5" fill="none" stroke="#e0e0e0" stroke-width="0.65" stroke-linejoin="round"/>
<polyline points="839.4,201.6 830.4,200.5 817.2,204.0 809.2,205.9 801.6,207.5 793.5,214.4" fill="none" stroke="#e0e0e0" stroke-width="0.65" stroke-linejoin="round"/>
<polyline points="619.3,284.7 619.1,276.3 617.8,271.3 616.8,263.4 610.3,257.0 609.6,251.7 603.2,242.7" fill="none" stroke="#e0e0e0" stroke-width="0.65" stroke-linejoin="round"/>
<polyline points="648.2,178.3 638.2,180.3 632.0,180.8 619.0,178.3 614.7,174.2 606.4,171.3 601.1,168.8" fill="none" stroke="#e0e0e0" stroke-width="0.65" stroke-linejoin="round"/>
<polyline points="892.2,279.6 886.5,289.2 883.4,300.7 878.0,308.6 872.2,314.3 865.6,320.0 863.7,327.7" fill="none" stroke="#e0e0e0" stroke-width="0.65" stroke-linejoin="round"/>
<polyline points="746.3,196.6 742.4,201.7 739.3,214.3 735.3,222.0 731.4,233.2 723.1,239.3" fill="none" stroke="#e0e0e0" stroke-width="0.65" stroke-linejoin="round"/>
<polyline points="587.6,265.4 586.5,278.8 588.3,291.9 588.4,297.6 593.0,306.8 591.3,314.8 586.4,322.1 581.3,324.6" fill="none" stroke="#e0e0e0" stroke-width="0.65" stroke-linejoin="round"/>
<polyline points="649.7,175.2 656.4,177.5 661.5,175.6 673.4,170.3 680.5,163.9 682.5,157.1" fill="none" stroke="#e0e0e0" stroke-width="0.65" stroke-linejoin="round"/>
<polyline points="546.7,150.2 556.2,158.8 561.6,161.9 571.4,162.7 580.3,168.8" fill="none" stroke="#e0e0e0" stroke-width="0.65" stroke-linejoin="round"/>
<polyline points="953.8,166.4 955.4,175.6 955.8,187.8 961.7,199.1 962.1,204.9 961.0,216.8 955.0,223.0 942.3,225.3 937.1,231.2 930.8,235.8" fill="none" stroke="#e0e0e0" stroke-width="0.65" stroke-linejoin="round"/>
<polyline points="715.1,263.5 714.9,257.1 708.8,246.8 697.8,241.4 688.5,238.0 679.6,233.4" fill="none" stroke="#e0e0e0" stroke-width="0.65" stroke-linejoin="round"/>
<polyline points="829.0,242.3 821.3,251.9 818.1,256.2 809.9,263.3 800.9,270.2 794.0,274.7 787.5,278.5 781.1,286.1 779.4,298.3 774.8,302.7" fill="none" stroke="#e0e0e0" stroke-width="0.65" stroke-linejoin="round"/>
<polyline points="188.7,376.2 194.8,376.5 201.6,377.2 208.0,380.6 217.4,387.6" fill="none" stroke="#e0e0e0" stroke-width="0.65" stroke-linejoin="round"/>
<polyline points="270.9,489.0 271.9,483.8 275.8,477.8 284.8,474.9 292.9,473.9 301.6,476.5" fill="none" stroke="#e0e0e0" stroke-width="0.65" stroke-linejoin="round"/>
<polyline points="32.3,456.0 38.4,465.3 43.4,470.2 54.2,477.7 64.1,482.3 67.3,486.6 78.2,489.6 86.4,488.8 94.7,485.9 105.0,478.1" fill="none" stroke="#e0e0e0" stroke-width="0.65" stroke-linejoin="round"/>
<polyline points="149.6,515.5 158.5,506.3 163.5,495.6 169.3,490.9 175.0,483.5 181.1,481.1 191.4,480.0 201.4,478.2" fill="none" stroke="#e0e0e0" stroke-width="0.65" stroke-linejoin="round"/>
<polyline points="264.9,330.4 267.3,318.6 268.3,309.8 263.3,297.3 261.7,285.2 254.1,274.4 247.2,271.1" fill="none" stroke="#e0e0e0" stroke-width="0.65" stroke-linejoin="round"/>
<polyline points="150.8,364.4 152.3,358.8 152.8,345.5 157.2,333.3 161.7,330.5 168.9,320.8 173.1,317.5 178.8,313.2" fill="none" stroke="#e0e0e0" stroke-width="0.65" stroke-linejoin="round"/>
<polyline points="129.1,305.2 134.5,302.4 148.0,304.5 153.0,305.5 162.6,303.5 172.5,303.5 180.1,309.6" fill="none" stroke="#e0e0e0" stroke-width="0.65" stroke-linejoin="round"/>
<polyline points="23.2,512.9 29.4,508.7 33.0,502.3 32.6,496.9 32.0,488.3 32.0,480.0" fill="none" stroke="#e0e0e0" stroke-width="0.65" stroke-linejoin="round"/>
<polyline points="123.1,518.4 121.8,510.7 117.9,497.4 114.3,489.8 110.9,484.5 111.6,479.5 115.3,466.7" fill="none" stroke="#e0e0e0" stroke-width="0.65" stroke-linejoin="round"/>
<polyline points="76.4,426.6 66.0,430.0 59.4,438.3 59.1,449.8 60.2,459.7 58.9,468.6" fill="none" stroke="#e0e0e0" stroke-width="0.65" stroke-linejoin="round"/>
<polyline points="200.4,389.3 191.9,379.9 185.0,372.2 184.8,365.1 186.6,353.5 186.3,342.1 184.7,332.5 184.6,321.4" fill="none" stroke="#e0e0e0" stroke-width="0.65" stroke-linejoin="round"/>
<polyline points="96.6,430.9 88.9,421.9 78.1,415.5 73.9,408.5 69.8,399.3 71.4,393.9" fill="none" stroke="#e0e0e0" stroke-width="0.65" stroke-linejoin="round"/>
<polyline points="227.2,367.4 226.1,374.4 229.8,386.3 233.6,396.4 232.3,409.3 229.2,413.7" fill="none" stroke="#e0e0e0" stroke-width="0.65" stroke-linejoin="round"/>
<polyline points="114.4,479.7 117.7,468.9 118.8,460.7 122.1,451.6 123.0,440.6" fill="none" stroke="#e0e0e0" stroke-width="0.65" stroke-linejoin="round"/>
<polyline points="82.5,349.7 74.0,353.4 62.1,353.3 52.3,358.5 44.7,364.5" fill="none" stroke="#e0e0e0" stroke-width="0.65" stroke-linejoin="round"/>
<polyline points="71.3,369.0 69.1,378.8 72.5,385.3 75.2,392.5 78.9,405.2 83.3,411.2 89.7,418.5 93.6,422.9" fill="none" stroke="#e0e0e0" stroke-width="0.65" stroke-linejoin="round"/>
<polyline points="38.5,510.0 38.1,515.4 38.1,523.7" fill="none" stroke="#e0e0e0" stroke-width="0.65" stroke-linejoin="round"/>
<polyline points="122.4,435.6 122.6,422.9 117.5,413.7 119.6,401.2 121.1,395.8 119.4,383.2 113.4,376.4" fill="none" stroke="#e0e0e0" stroke-width="0.65" stroke-linejoin="round"/>
<polyline points="118.0,379.5 123.2,379.3 132.3,380.1 144.9,380.5 154.1,379.7 162.1,383.7 170.8,387.9 177.6,396.5 180.4,404.7 189.6,410.9" fill="none" stroke="#e0e0e0" stroke-width="0.65" stroke-linejoin="round"/>
<polyline points="166.2,464.6 160.7,453.2 158.9,448.4 154.5,436.6 148.3,429.9" fill="none" stroke="#e0e0e0" stroke-width="0.65" stroke-linejoin="round"/>
<polyline points="247.2,328.0 248.2,339.1 250.2,349.2 244.3,360.0 238.9,363.4 232.1,370.2 230.8,384.0 232.4,391.2 235.8,397.7 235.6,407.7 235.3,416.4" fill="none" stroke="#e0e0e0" stroke-width="0.65" stroke-linejoin="round"/>
<polyline points="15.3,353.1 21.3,345.2 23.5,339.4 23.1,328.6 29.0,319.4 33.7,315.3 41.7,314.4 52.9,312.5 64.5,313.2 69.0,309.9 81.4,310.0" fill="none" stroke="#e0e0e0" stroke-width="0.65" stroke-linejoin="round"/>
<polyline points="177.6,389.1 182.3,384.1 186.0,371.9 184.6,365.9 188.3,354.1 189.8,349.2 196.5,339.7 197.5,332.8" fill="none" stroke="#e0e0e0" stroke-width="0.65" stroke-linejoin="round"/>
<polyline points="216.1,459.7 220.7,455.3 227.4,454.0 231.7,450.0 244.5,445.4 254.2,440.5 263.3,431.0 268.8,427.7 273.2,417.4" fill="none" stroke="#e0e0e0" stroke-width="0.65" stroke-linejoin="round"/>
<polyline points="92.9,341.9 80.9,344.1 73.4,340.1 65.1,341.5 58.0,341.2 52.2,340.7" fill="none" stroke="#e0e0e0" stroke-width="0.65" stroke-linejoin="round"/>
<polyline points="139.3,454.8 134.9,457.7 127.1,465.4 123.1,475.6 120.8,480.7 118.8,485.5 109.6,494.6 102.9,496.0 96.1,499.7 85.2,504.2" fill="none" stroke="#e0e0e0" stroke-width="0.65" stroke-linejoin="round"/>
<polyline points="60.4,392.9 64.3,387.1 69.3,385.1 82.6,381.8 94.7,375.8 99.9,374.5 108.0,370.4 115.9,361.8 119.4,350.2 119.4,344.6 120.0,338.7" fill="none" stroke="#e0e0e0" stroke-width="0.65" stroke-linejoin="round"/>
<polyline points="165.5,469.1 160.1,469.4 151.4,468.8 143.2,466.0 139.2,461.8 134.3,451.4 127.7,442.6 123.0,440.8" fill="none" stroke="#e0e0e0" stroke-width="0.65" stroke-linejoin="round"/>
<polyline points="160.8,308.2 155.4,308.8 143.2,314.7 135.9,321.5 122.8,322.4 113.3,319.9" fill="none" stroke="#e0e0e0" stroke-width="0.65" stroke-linejoin="round"/>
<polyline points="71.9,302.8 81.6,310.1 89.8,317.7 100.7,321.9 108.1,321.1" fill="none" stroke="#e0e0e0" stroke-width="0.65" stroke-linejoin="round"/>
<polyline points="73.1,466.0 66.9,469.6 54.1,474.9 48.7,484.0 39.8,492.6 33.0,502.8 26.3,514.3 28.4,527.6" fill="none" stroke="#e0e0e0" stroke-width="0.65" stroke-linejoin="round"/>
<polyline points="26.4,338.8 19.9,328.5 18.6,321.8 23.0,311.5 26.6,307.2 26.6,294.3 20.7,286.5 16.4,283.0 12.6,278.8 11.4,273.5" fill="none" stroke="#e0e0e0" stroke-width="0.65" stroke-linejoin="round"/>
<polyline points="109.7,378.7 103.8,368.0 97.8,357.6 94.2,351.3 92.3,343.8 85.2,337.9 80.1,328.0" fill="none" stroke="#e0e0e0" stroke-width="0.65" stroke-linejoin="round"/>
<polyline points="49.4,372.6 42.1,363.4 36.5,354.1 34.5,348.9 35.0,336.6 39.8,325.0 40.0,314.7 41.5,301.9 44.3,288.8 48.1,284.8 55.3,280.1" fill="none" stroke="#e0e0e0" stroke-width="0.65" stroke-linejoin="round"/>
<polyline points="188.0,465.7 185.5,470.9 177.8,480.8 173.4,490.2 163.8,497.6 161.8,506.8 164.4,512.2" fill="none" stroke="#e0e0e0" stroke-width="0.65" stroke-linejoin="round"/>
<polyline points="181.4,389.8 181.8,398.3 182.3,403.6 186.8,416.8 195.8,426.2 203.4,432.4" fill="none" stroke="#e0e0e0" stroke-width="0.65" stroke-linejoin="round"/>
<polyline points="72.5,331.9 70.4,325.6 62.3,314.7 57.1,309.9 54.1,299.9 56.4,291.6 59.9,278.5" fill="none" stroke="#e0e0e0" stroke-width="0.65" stroke-linejoin="round"/>
<polyline points="56.8,479.4 68.8,483.5 75.9,481.9 86.7,480.5 97.5,482.7 105.0,491.6 108.6,502.0 117.5,509.7 125.6,513.0" fill="none" stroke="#e0e0e0" stroke-width="0.65" stroke-linejoin="round"/>
<polyline points="154.3,359.5 155.3,370.4 154.5,378.7 153.1,389.7 147.0,397.0 140.4,409.1 141.8,421.5" fill="none" stroke="#e0e0e0" stroke-width="0.65" stroke-linejoin="round"/>
<polyline points="205.1,413.8 199.0,415.7 190.0,417.2 181.6,413.0 168.5,416.0 162.8,419.4 153.3,419.0 148.4,414.6 139.4,404.1 135.8,397.9 135.0,392.7" fill="none" stroke="#e0e0e0" stroke-width="0.65" stroke-linejoin="round"/>
<polyline points="164.5,377.8 171.5,384.1 173.0,392.2 170.1,399.5 163.0,405.8 160.8,415.3 156.1,420.2 150.9,422.2 143.2,428.0 131.0,433.0" fill="none" stroke="#e0e0e0" stroke-width="0.65" stroke-linejoin="round"/>
<polyline points="233.1,366.4 225.3,355.5 218.4,351.5 213.0,349.0 204.5,348.1 190.9,348.9 184.5,351.4" fill="none" stroke="#e0e0e0" stroke-width="0.65" stroke-linejoin="round"/>
<polyline points="272.6,388.1 273.6,375.1 269.5,368.7 264.1,359.2 263.8,350.5 258.9,343.6 256.2,335.5 257.7,322.9 254.0,314.6 245.3,310.1" fill="none" stroke="#e0e0e0" stroke-width="0.65" stroke-linejoin="round"/>
<polyline points="209.4,353.3 202.6,351.1 193.1,354.0 182.0,353.2 169.7,353.9 163.3,358.3 150.7,363.6" fill="none" stroke="#e0e0e0" stroke-width="0.65" stroke-linejoin="round"/>
<polyline points="190.2,446.1 197.3,436.3 205.0,432.5 212.2,428.9 223.6,429.4 234.1,424.4 245.3,417.1 249.8,411.9" fill="none" stroke="#e0e0e0" stroke-width="0.65" stroke-linejoin="round"/>
<polyline points="20.0,280.7 12.8,276.1 7.0,271.4" fill="none" stroke="#e0e0e0" stroke-width="0.65" stroke-linejoin="round"/>
<polyline points="251.5,316.3 246.9,312.3 242.0,310.2 235.5,298.5 230.8,292.5 225.0,281.0 217.4,270.4" fill="none" stroke="#e0e0e0" stroke-width="0.65" stroke-linejoin="round"/>
<polyline points="181.5,402.2 173.9,398.9 162.5,392.6 157.3,393.0 151.3,393.4 145.4,389.6" fill="none" stroke="#e0e0e0" stroke-width="0.65" stroke-linejoin="round"/>
<polyline points="137.3,463.4 132.1,470.7 124.2,480.1 123.6,492.5 126.9,498.7 129.4,506.4 134.6,515.0 144.5,522.1 156.7,524.9" fill="none" stroke="#e0e0e0" stroke-width="0.65" stroke-linejoin="round"/>
<polyline points="242.6,408.9 254.5,405.7 261.4,401.0 268.9,401.3 274.1,398.3 284.6,389.7 292.2,381.8 297.5,380.3 306.3,376.0" fill="none" stroke="#e0e0e0" stroke-width="0.65" stroke-linejoin="round"/>
<polyline points="192.5,418.1 182.0,417.1 172.1,420.5 167.9,425.5 162.9,428.3 157.8,428.1 146.8,423.0 138.2,414.6 127.2,410.5 122.0,404.9" fill="none" stroke="#e0e0e0" stroke-width="0.65" stroke-linejoin="round"/>
<polyline points="235.8,285.5 237.2,280.1 236.3,275.1" fill="none" stroke="#e0e0e0" stroke-width="0.65" stroke-linejoin="round"/>
<polyline points="189.1,343.3 183.7,349.0 180.6,354.1 171.9,361.2 168.2,365.0 157.7,370.7" fill="none" stroke="#e0e0e0" stroke-width="0.65" stroke-linejoin="round"/>
<polyline points="102.9,486.0 99.2,490.4 95.6,497.4 83.9,504.5 74.1,505.1 66.3,508.4 57.4,514.7 50.6,514.6" fill="none" stroke="#e0e0e0" stroke-width="0.65" stroke-linejoin="round"/>
<polyline points="83.5,475.6 75.9,472.0 67.9,462.3 63.1,460.4 52.8,460.7 47.8,461.8 36.2,458.6 30.9,457.5 23.8,450.8 16.0,449.6 3.7,445.4" fill="none" stroke="#e0e0e0" stroke-width="0.65" stroke-linejoin="round"/>
<polyline points="145.4,433.5 150.6,439.8 151.5,445.6 146.6,458.2 143.8,467.9 135.2,475.1" fill="none" stroke="#e0e0e0" stroke-width="0.65" stroke-linejoin="round"/>
<polyline points="274.2,462.8 265.1,464.5 254.6,468.0 247.5,468.2 236.5,466.1 230.2,465.2 222.4,458.4 215.3,457.6 210.3,452.6 200.6,445.4" fill="none" stroke="#e0e0e0" stroke-width="0.65" stroke-linejoin="round"/>
<polyline points="247.1,432.1 241.9,420.1 238.2,416.7 231.5,411.2 228.0,398.0" fill="none" stroke="#e0e0e0" stroke-width="0.65" stroke-linejoin="round"/>
<polyline points="232.6,290.6 228.3,284.7 223.6,282.4 219.5,278.1" fill="none" stroke="#e0e0e0" stroke-width="0.65" stroke-linejoin="round"/>
<polyline points="56.1,473.7 62.9,480.4 64.2,488.7 62.2,494.0 65.2,504.4 72.8,510.9 80.7,520.2 87.6,529.2" fill="none" stroke="#e0e0e0" stroke-width="0.65" stroke-linejoin="round"/>
<polyline points="137.1,441.0 125.2,444.5 116.2,443.2 106.1,447.3 99.9,453.6 96.7,467.0" fill="none" stroke="#e0e0e0" stroke-width="0.65" stroke-linejoin="round"/>
<polyline points="163.8,364.6 176.4,367.5 180.0,372.1 186.5,376.4 195.5,379.2 202.9,382.3 208.6,382.2 217.4,375.3 224.0,373.3 236.5,367.3" fill="none" stroke="#e0e0e0" stroke-width="0.65" stroke-linejoin="round"/>
<polyline points="267.3,193.3 308.5,194.5 332.7,199.4 369.1,209.1 393.3,211.5 429.7,207.9 466.0,198.2 480.0,195.1 522.4,192.3 564.8,190.9 604.4,179.6 629.9,166.9 661.0,164.0 689.3,173.9 720.4,195.1 740.0,199.3 770.3,215.8 790.5,238.5 810.7,256.2 841.0,263.7 871.3,258.7 891.5,246.1 911.7,218.3 937.0,193.0 969.8,176.6 990.0,168.0" fill="none" stroke="#c4c4c4" stroke-width="2.6" stroke-linejoin="round" stroke-linecap="round"/>
<polyline points="604.4,179.6 564.8,207.9 545.0,233.3 533.7,272.9 511.1,301.2 488.5,318.2 470.0,330.0" fill="none" stroke="#c4c4c4" stroke-width="2.4" stroke-linejoin="round" stroke-linecap="round"/>
<polyline points="740.0,299.0 790.5,291.5 841.0,268.8 886.5,251.1 916.8,246.1 942.0,243.5 990.0,243.5" fill="none" stroke="#c8c8c8" stroke-width="1.8" stroke-linejoin="round" stroke-linecap="round"/>
<polyline points="916.8,251.1 954.6,261.2 990.0,268.8" fill="none" stroke="#cfcfcf" stroke-width="1.2" stroke-linejoin="round" stroke-linecap="round"/>
<polyline points="916.8,223.3 931.9,200.6 979.9,172.8" fill="none" stroke="#cfcfcf" stroke-width="1.2" stroke-linejoin="round" stroke-linecap="round"/>
<polyline points="500.0,383.0 540.0,368.0 600.0,337.0 627.1,312.0 661.0,303.0 706.2,297.5 760.0,299.0" fill="none" stroke="#cccccc" stroke-width="1.6" stroke-linejoin="round" stroke-linecap="round"/>
<polyline points="520.0,362.0 560.0,345.0 627.1,309.7 661.0,301.2 706.2,295.5" fill="none" stroke="#d6d6d6" stroke-width="1.0" stroke-linejoin="round" stroke-linecap="round"/>
<polyline points="726.0,161.2 720.4,171.1 721.8,196.6 720.4,222.0 700.6,236.2 683.6,253.1 666.6,272.9 661.0,292.7 649.7,309.7" fill="none" stroke="#bdbdbd" stroke-width="1.2" stroke-linejoin="round" stroke-linecap="round"/>
<polyline points="318.4,30.0 317.5,60.0 315.8,140.0 312.1,171.5 310.9,212.7 306.1,241.8 301.2,258.8 303.6,270.9 312.1,300.0 320.0,330.0" fill="none" stroke="#bdbdbd" stroke-width="1.8" stroke-linejoin="round" stroke-linecap="round"/>
<polyline points="290.0,150.0 292.7,164.2 300.0,178.8 298.8,200.6 289.1,220.0 277.0,244.2 269.7,275.8 268.1,300.0 264.4,322.2 265.9,338.5 274.0,356.2 282.9,368.0 288.8,382.8 292.5,400.0 296.2,416.6 299.7,443.3 298.0,457.5 285.5,464.6 250.0,470.0 219.6,478.0" fill="none" stroke="#666666" stroke-width="1.3" stroke-linejoin="round" stroke-linecap="round"/>
<polyline points="248.9,311.8 251.8,317.8 256.3,337.0 251.8,362.1 250.4,371.0 254.8,375.4 280.0,387.3 308.0,391.7" fill="none" stroke="#c4c4c4" stroke-width="1.8" stroke-linejoin="round" stroke-linecap="round"/>
<polyline points="485.5,140.0 486.7,154.5 479.4,174.0 481.8,190.9 480.6,207.9 470.9,220.0 453.9,226.1 434.5,228.5 417.6,234.5 395.8,254.0 388.5,270.9 386.1,300.0 388.0,330.0" fill="none" stroke="#bdbdbd" stroke-width="1.2" stroke-linejoin="round" stroke-linecap="round"/>
<polyline points="388.5,245.5 371.5,254.0 340.0,300.0 310.0,345.0" fill="none" stroke="#d0d0d0" stroke-width="1.4" stroke-linejoin="round" stroke-linecap="round"/>
<polyline points="315.8,161.8 330.3,144.8" fill="none" stroke="#bdbdbd" stroke-width="1.0" stroke-linejoin="round" stroke-linecap="round"/>
<polyline points="0.0,272.7 50.0,290.0 100.0,313.3 156.7,336.7 233.3,370.0 254.8,375.4" fill="none" stroke="#c4c4c4" stroke-width="2.4" stroke-linejoin="round" stroke-linecap="round"/>
<polyline points="0.0,309.3 50.0,330.0 83.3,323.3 106.7,306.7 130.0,290.0 153.3,288.3 200.0,303.3 240.0,310.0 266.7,313.3 330.0,326.7 400.0,338.0" fill="none" stroke="#c8c8c8" stroke-width="2.0" stroke-linejoin="round" stroke-linecap="round"/>
<polyline points="0.0,410.3 212.1,407.9 300.0,398.2" fill="none" stroke="#cdcdcd" stroke-width="1.6" stroke-linejoin="round" stroke-linecap="round"/>
<polyline points="0.0,433.0 151.5,437.6 300.0,442.1" fill="none" stroke="#d8d8d8" stroke-width="1.0" stroke-linejoin="round" stroke-linecap="round"/>
<polyline points="0.0,477.0 121.2,461.8 300.0,448.2" fill="none" stroke="#d8d8d8" stroke-width="1.0" stroke-linejoin="round" stroke-linecap="round"/>
<polyline points="30.3,504.2 90.9,480.0 136.4,472.4 151.5,461.8 154.5,428.5 157.6,425.5 212.1,413.3" fill="none" stroke="#c8c8c8" stroke-width="1.6" stroke-linejoin="round" stroke-linecap="round"/>
<polyline points="121.2,525.5 181.8,489.1 230.3,452.7" fill="none" stroke="#d6d6d6" stroke-width="1.0" stroke-linejoin="round" stroke-linecap="round"/>
<polyline points="163.6,440.0 272.7,444.0" fill="none" stroke="#d0d0d0" stroke-width="2.5" stroke-linejoin="round" stroke-linecap="round"/>
<polyline points="172.9,252.9 173.7,272.8 177.4,276.5 215.1,271.4 213.6,238.8 224.0,232.9 226.9,238.8 244.7,253.6 253.6,264.0 256.5,253.6 263.9,253.6 268.3,234.4 268.3,227.0 263.9,201.8 252.1,200.4 237.3,198.9 215.1,212.2 203.3,219.6 190.7,230.0 197.3,241.8 172.9,252.9" fill="none" stroke="#cccccc" stroke-width="1.6" stroke-linejoin="round" stroke-linecap="round"/>
<polyline points="197.3,241.8 224.0,232.9 268.3,227.0" fill="none" stroke="#cccccc" stroke-width="1.5" stroke-linejoin="round" stroke-linecap="round"/>
<polyline points="203.3,219.6 210.7,235.9 215.1,271.4" fill="none" stroke="#cccccc" stroke-width="1.5" stroke-linejoin="round" stroke-linecap="round"/>
<polyline points="197.3,241.8 203.3,261.0 204.7,272.8" fill="none" stroke="#cccccc" stroke-width="1.3" stroke-linejoin="round" stroke-linecap="round"/>
<polyline points="215.1,212.2 224.0,232.9" fill="none" stroke="#cccccc" stroke-width="1.3" stroke-linejoin="round" stroke-linecap="round"/>
<polyline points="241.7,200.4 244.7,253.6" fill="none" stroke="#cccccc" stroke-width="1.3" stroke-linejoin="round" stroke-linecap="round"/>
<polyline points="252.1,200.4 255.0,253.6 259.5,290.0" fill="none" stroke="#cccccc" stroke-width="1.3" stroke-linejoin="round" stroke-linecap="round"/>
<polyline points="153.0,275.0 173.7,272.8" fill="none" stroke="#cccccc" stroke-width="1.2" stroke-linejoin="round" stroke-linecap="round"/>
<polyline points="68.5,364.3 119.5,381.3 137.0,380.0" fill="none" stroke="#d0d0d0" stroke-width="1.0" stroke-linejoin="round" stroke-linecap="round"/>
<polyline points="284.5,190.0 283.9,192.3 282.2,193.9 280.0,194.5 277.7,193.9 276.1,192.2 275.5,190.0 276.1,187.7 277.8,186.1 280.0,185.5 282.3,186.1 283.9,187.8 284.5,190.0" fill="none" stroke="#c8c8c8" stroke-width="1.3" stroke-linejoin="round" stroke-linecap="round"/>
<polyline points="290.1,208.0 289.6,209.8 288.3,211.0 286.6,211.5 284.8,211.0 283.6,209.7 283.1,208.0 283.6,206.2 284.9,205.0 286.6,204.5 288.4,205.0 289.6,206.3 290.1,208.0" fill="none" stroke="#c8c8c8" stroke-width="1.2" stroke-linejoin="round" stroke-linecap="round"/>
<polyline points="312.2,227.6 311.8,229.0 310.8,230.0 309.4,230.4 308.0,230.0 307.0,229.0 306.6,227.6 307.0,226.2 308.0,225.2 309.4,224.8 310.8,225.2 311.8,226.2 312.2,227.6" fill="none" stroke="#c8c8c8" stroke-width="1.2" stroke-linejoin="round" stroke-linecap="round"/>
<polyline points="251.6,307.3 251.1,309.3 249.6,310.8 247.6,311.3 245.6,310.8 244.1,309.3 243.6,307.3 244.1,305.3 245.6,303.8 247.6,303.3 249.6,303.8 251.1,305.3 251.6,307.3" fill="none" stroke="#c8c8c8" stroke-width="1.3" stroke-linejoin="round" stroke-linecap="round"/>
<polyline points="107.5,313.3 107.0,315.3 105.5,316.8 103.5,317.3 101.5,316.8 100.0,315.3 99.5,313.3 100.0,311.3 101.5,309.8 103.5,309.3 105.5,309.8 107.0,311.3 107.5,313.3" fill="none" stroke="#c8c8c8" stroke-width="1.3" stroke-linejoin="round" stroke-linecap="round"/>
<polyline points="253.6,371.0 253.2,372.6 252.0,373.8 250.4,374.2 248.8,373.8 247.6,372.6 247.2,371.0 247.6,369.4 248.8,368.2 250.4,367.8 252.0,368.2 253.2,369.4 253.6,371.0" fill="none" stroke="#c8c8c8" stroke-width="1.2" stroke-linejoin="round" stroke-linecap="round"/>
<polyline points="267.0,190.0 275.0,186.0 285.0,186.0 290.0,195.0 286.0,205.0 288.0,214.0 300.0,222.0 309.0,227.0" fill="none" stroke="#c8c8c8" stroke-width="1.2" stroke-linejoin="round" stroke-linecap="round"/>
<polyline points="228.5,588.0 258.0,552.4 275.8,540.6 338.0,514.0 350.0,490.3 355.8,469.6 372.0,455.0 392.0,440.0 420.0,428.0 450.0,420.0" fill="none" stroke="#d2d2d2" stroke-width="1.0" stroke-linejoin="round" stroke-linecap="round"/>
<polyline points="234.4,582.0 264.0,546.5 344.0,508.0 352.0,488.0" fill="none" stroke="#dadada" stroke-width="0.8" stroke-linejoin="round" stroke-linecap="round"/>
<polyline points="0.0,358.0 20.0,354.0" fill="none" stroke="#cfcfcf" stroke-width="0.9" stroke-linejoin="round" stroke-linecap="round"/>
<polyline points="0.0,362.0 20.0,358.5" fill="none" stroke="#cfcfcf" stroke-width="0.9" stroke-linejoin="round" stroke-linecap="round"/>
<polyline points="0.0,366.0 20.0,363.0" fill="none" stroke="#cfcfcf" stroke-width="0.9" stroke-linejoin="round" stroke-linecap="round"/>
<polyline points="0.0,370.0 20.0,367.5" fill="none" stroke="#cfcfcf" stroke-width="0.9" stroke-linejoin="round" stroke-linecap="round"/>
<polyline points="0.0,374.0 20.0,372.0" fill="none" stroke="#cfcfcf" stroke-width="0.9" stroke-linejoin="round" stroke-linecap="round"/>
<polyline points="4.0,356.0 9.0,378.0" fill="none" stroke="#cfcfcf" stroke-width="0.9" stroke-linejoin="round" stroke-linecap="round"/>
<polyline points="12.0,355.0 16.0,376.0" fill="none" stroke="#cfcfcf" stroke-width="0.9" stroke-linejoin="round" stroke-linecap="round"/>
<polyline points="0.0,377.0 37.0,364.0" fill="none" stroke="#cfcfcf" stroke-width="1.0" stroke-linejoin="round" stroke-linecap="round"/>
<polyline points="5.0,378.0 10.0,400.0 8.0,410.0" fill="none" stroke="#d8d8d8" stroke-width="0.8" stroke-linejoin="round" stroke-linecap="round"/>
<defs><pattern id="hatch" width="7" height="7" patternUnits="userSpaceOnUse" patternTransform="rotate(28)"><path d="M0,0 L7,0 M0,0 L0,7" stroke="#000" stroke-opacity="0.16" stroke-width="0.7"/></pattern></defs>
<polygon points="317.5,68.2 324.6,66.4 330.8,60.2 341.5,59.3 346.8,50.4 361.0,41.5 361.9,54.0 357.5,63.7 348.6,70.8 344.1,75.3 337.9,77.9 337.0,82.4 325.5,89.5 318.4,89.5" fill="#0aa6e6"/>
<polygon points="317.5,68.2 324.6,66.4 330.8,60.2 341.5,59.3 346.8,50.4 361.0,41.5 361.9,54.0 357.5,63.7 348.6,70.8 344.1,75.3 337.9,77.9 337.0,82.4 325.5,89.5 318.4,89.5" fill="url(#hatch)"/>
<polygon points="303.3,97.5 309.5,93.0 318.4,90.4 325.5,91.2 330.8,97.5 346.8,100.1 362.8,105.4 328.2,143.6 314.9,138.3 304.2,134.7 301.5,105.4" fill="#0aa6e6"/>
<polygon points="303.3,97.5 309.5,93.0 318.4,90.4 325.5,91.2 330.8,97.5 346.8,100.1 362.8,105.4 328.2,143.6 314.9,138.3 304.2,134.7 301.5,105.4" fill="url(#hatch)"/>
<polygon points="437.0,168.6 442.3,165.3 448.3,166.6 449.0,170.6 456.3,166.0 460.3,163.3 459.6,156.0 464.3,154.6 471.0,157.3 475.0,154.0 479.0,157.3 478.3,163.3 472.3,174.0 473.0,178.0 469.0,176.6 468.3,182.6 461.0,182.6 456.3,185.3 453.6,180.6 457.0,176.0 451.6,172.6 447.0,176.0 445.0,172.6 437.0,174.0" fill="#f85512"/>
<polygon points="437.0,168.6 442.3,165.3 448.3,166.6 449.0,170.6 456.3,166.0 460.3,163.3 459.6,156.0 464.3,154.6 471.0,157.3 475.0,154.0 479.0,157.3 478.3,163.3 472.3,174.0 473.0,178.0 469.0,176.6 468.3,182.6 461.0,182.6 456.3,185.3 453.6,180.6 457.0,176.0 451.6,172.6 447.0,176.0 445.0,172.6 437.0,174.0" fill="url(#hatch)"/>
<polygon points="455.0,126.0 458.0,126.0 456.5,129.0" fill="#f85512"/>
<polygon points="455.0,126.0 458.0,126.0 456.5,129.0" fill="url(#hatch)"/>
<polygon points="355.8,230.4 363.5,233.3 369.2,232.3 376.0,228.5 388.5,227.5 404.8,241.0 413.5,233.3 424.0,233.3 417.3,246.7 409.6,258.3 394.2,262.1 388.5,269.8 384.6,261.2 376.9,260.2 367.3,265.0 357.7,253.5 354.8,240.0" fill="#f85512"/>
<polygon points="355.8,230.4 363.5,233.3 369.2,232.3 376.0,228.5 388.5,227.5 404.8,241.0 413.5,233.3 424.0,233.3 417.3,246.7 409.6,258.3 394.2,262.1 388.5,269.8 384.6,261.2 376.9,260.2 367.3,265.0 357.7,253.5 354.8,240.0" fill="url(#hatch)"/>
<polygon points="313.5,291.0 318.3,288.0 325.0,272.7 327.9,271.7 342.3,280.4 354.8,272.7 347.0,286.2 345.2,288.0 351.9,292.0 351.0,297.7 340.4,307.3 351.0,309.2 347.1,319.8 340.4,322.7 335.6,319.8 326.9,314.0 326.9,309.2 320.2,307.3 314.4,297.7" fill="#f85512"/>
<polygon points="313.5,291.0 318.3,288.0 325.0,272.7 327.9,271.7 342.3,280.4 354.8,272.7 347.0,286.2 345.2,288.0 351.9,292.0 351.0,297.7 340.4,307.3 351.0,309.2 347.1,319.8 340.4,322.7 335.6,319.8 326.9,314.0 326.9,309.2 320.2,307.3 314.4,297.7" fill="url(#hatch)"/>
<polygon points="367.3,289.0 374.0,284.2 376.9,274.6 380.8,273.7 382.7,277.5 389.4,277.5 389.4,285.2 382.7,285.2 376.9,290.0 369.2,291.0" fill="#f85512"/>
<polygon points="367.3,289.0 374.0,284.2 376.9,274.6 380.8,273.7 382.7,277.5 389.4,277.5 389.4,285.2 382.7,285.2 376.9,290.0 369.2,291.0" fill="url(#hatch)"/>
<polygon points="305.8,305.4 310.6,301.5 314.4,305.4 313.5,309.2 307.7,307.3" fill="#2256ab"/>
<polygon points="305.8,305.4 310.6,301.5 314.4,305.4 313.5,309.2 307.7,307.3" fill="url(#hatch)"/>
<polygon points="33.3,346.1 39.2,340.2 41.5,341.3 47.4,337.2 51.8,339.4 39.2,352.0 35.5,350.5" fill="#f85512"/>
<polygon points="33.3,346.1 39.2,340.2 41.5,341.3 47.4,337.2 51.8,339.4 39.2,352.0 35.5,350.5" fill="url(#hatch)"/>
<polygon points="37.0,363.8 59.2,351.3 68.8,363.1 60.0,400.8 55.5,402.3 42.2,401.6 37.8,399.3 36.3,389.0 39.2,377.1" fill="#f85512"/>
<polygon points="37.0,363.8 59.2,351.3 68.8,363.1 60.0,400.8 55.5,402.3 42.2,401.6 37.8,399.3 36.3,389.0 39.2,377.1" fill="url(#hatch)"/>
<polygon points="86.6,397.9 90.3,393.4 102.9,394.2 113.2,393.4 132.5,392.7 132.5,390.5 136.9,389.7 136.9,343.1 141.8,340.2 155.2,340.2 155.2,380.1 151.5,392.0 150.0,407.5 97.0,408.2 89.5,403.8" fill="#2256ab"/>
<polygon points="86.6,397.9 90.3,393.4 102.9,394.2 113.2,393.4 132.5,392.7 132.5,390.5 136.9,389.7 136.9,343.1 141.8,340.2 155.2,340.2 155.2,380.1 151.5,392.0 150.0,407.5 97.0,408.2 89.5,403.8" fill="url(#hatch)"/>
<polygon points="157.4,329.8 169.2,326.8 171.4,330.5 186.2,335.7 187.7,337.2 207.0,343.1 204.0,354.2 213.6,360.1 207.0,377.1 212.1,405.3 151.5,406.7 150.7,394.9 155.9,380.1 155.9,339.4 157.4,337.2" fill="#f85512"/>
<polygon points="157.4,329.8 169.2,326.8 171.4,330.5 186.2,335.7 187.7,337.2 207.0,343.1 204.0,354.2 213.6,360.1 207.0,377.1 212.1,405.3 151.5,406.7 150.7,394.9 155.9,380.1 155.9,339.4 157.4,337.2" fill="url(#hatch)"/>
<polygon points="218.8,364.6 224.7,363.8 233.6,369.0 233.6,376.4 232.1,383.1 235.8,393.4 236.5,403.8 233.6,404.5 230.6,387.5 218.8,383.1" fill="#f85512"/>
<polygon points="218.8,364.6 224.7,363.8 233.6,369.0 233.6,376.4 232.1,383.1 235.8,393.4 236.5,403.8 233.6,404.5 230.6,387.5 218.8,383.1" fill="url(#hatch)"/>
<polygon points="230.6,319.4 232.8,319.4 232.8,321.0 230.6,321.0" fill="#f85512"/>
<polygon points="230.6,319.4 232.8,319.4 232.8,321.0 230.6,321.0" fill="url(#hatch)"/>
<polygon points="237.3,335.7 240.2,336.0 240.2,343.1 237.3,343.1" fill="#f85512"/>
<polygon points="237.3,335.7 240.2,336.0 240.2,343.1 237.3,343.1" fill="url(#hatch)"/>
<polygon points="239.5,364.6 240.7,364.6 240.7,367.5 239.5,367.5" fill="#f85512"/>
<polygon points="239.5,364.6 240.7,364.6 240.7,367.5 239.5,367.5" fill="url(#hatch)"/>
<polygon points="179.0,408.2 186.0,408.5 192.0,415.0 181.0,413.0" fill="#f85512"/>
<polygon points="179.0,408.2 186.0,408.5 192.0,415.0 181.0,413.0" fill="url(#hatch)"/>
<polygon points="287.4,347.2 292.6,343.5 299.2,342.0 303.7,347.2 321.4,346.5 322.9,348.7 337.0,353.9 343.6,350.9 349.5,350.2 354.0,352.4 359.9,353.9 368.8,356.1 371.7,360.5 374.7,353.9 377.7,351.6 383.6,350.2 392.5,352.4 400.0,356.0 399.8,365.7 398.1,373.8 401.0,379.0 396.4,385.0 384.0,396.5 406.3,411.2 405.6,420.5 389.8,431.0 372.7,419.8 367.5,427.0 355.7,426.4 347.8,429.0 345.2,436.2 322.2,431.6 319.5,424.4 324.1,406.0 298.9,404.7 295.9,402.1 294.8,391.6 295.5,381.2 294.0,366.4 288.9,359.0" fill="#2256ab"/>
<polygon points="287.4,347.2 292.6,343.5 299.2,342.0 303.7,347.2 321.4,346.5 322.9,348.7 337.0,353.9 343.6,350.9 349.5,350.2 354.0,352.4 359.9,353.9 368.8,356.1 371.7,360.5 374.7,353.9 377.7,351.6 383.6,350.2 392.5,352.4 400.0,356.0 399.8,365.7 398.1,373.8 401.0,379.0 396.4,385.0 384.0,396.5 406.3,411.2 405.6,420.5 389.8,431.0 372.7,419.8 367.5,427.0 355.7,426.4 347.8,429.0 345.2,436.2 322.2,431.6 319.5,424.4 324.1,406.0 298.9,404.7 295.9,402.1 294.8,391.6 295.5,381.2 294.0,366.4 288.9,359.0" fill="url(#hatch)"/>
<polygon points="384.0,396.5 396.0,385.0 403.0,378.7 411.2,376.3 419.3,377.1 424.2,381.1 428.2,386.8 421.7,396.6 411.2,404.7 406.3,411.2" fill="#f85512"/>
<polygon points="384.0,396.5 396.0,385.0 403.0,378.7 411.2,376.3 419.3,377.1 424.2,381.1 428.2,386.8 421.7,396.6 411.2,404.7 406.3,411.2" fill="url(#hatch)"/>
<polygon points="298.9,404.7 324.1,406.0 319.5,424.4 322.2,431.6 345.2,436.2 347.8,429.0 355.7,426.4 367.5,427.0 372.7,419.8 389.8,431.0 374.0,444.1 368.8,449.3 363.5,446.7 328.1,441.5 325.5,446.7 321.5,444.1 303.1,441.5 302.5,429.6 298.5,412.6" fill="#f85512"/>
<polygon points="298.9,404.7 324.1,406.0 319.5,424.4 322.2,431.6 345.2,436.2 347.8,429.0 355.7,426.4 367.5,427.0 372.7,419.8 389.8,431.0 374.0,444.1 368.8,449.3 363.5,446.7 328.1,441.5 325.5,446.7 321.5,444.1 303.1,441.5 302.5,429.6 298.5,412.6" fill="url(#hatch)"/>
<polygon points="303.8,453.3 307.1,448.0 316.3,444.8 325.5,446.1 320.2,450.7 312.3,453.9 304.4,454.6" fill="#f85512"/>
<polygon points="303.8,453.3 307.1,448.0 316.3,444.8 325.5,446.1 320.2,450.7 312.3,453.9 304.4,454.6" fill="url(#hatch)"/>
<polygon points="406.3,411.2 411.2,404.7 421.7,396.6 428.2,386.8 428.2,382.0 437.2,378.7 445.3,364.0 450.2,364.9 456.7,373.8 462.4,374.6 468.1,377.1 476.2,378.7 479.5,368.9 487.6,359.2 494.1,351.8 503.9,357.5 507.1,364.0 513.7,364.9 520.0,362.4 520.0,373.8 513.7,377.1 505.5,377.9 489.3,390.1 494.1,396.6 497.4,404.7 495.8,412.9 487.6,417.7 479.5,422.6 468.1,417.7 460.0,416.1 451.0,409.6 447.8,407.2 438.8,410.4 422.5,417.7 404.6,424.2 389.8,431.0 405.6,420.5" fill="#2256ab"/>
<polygon points="406.3,411.2 411.2,404.7 421.7,396.6 428.2,386.8 428.2,382.0 437.2,378.7 445.3,364.0 450.2,364.9 456.7,373.8 462.4,374.6 468.1,377.1 476.2,378.7 479.5,368.9 487.6,359.2 494.1,351.8 503.9,357.5 507.1,364.0 513.7,364.9 520.0,362.4 520.0,373.8 513.7,377.1 505.5,377.9 489.3,390.1 494.1,396.6 497.4,404.7 495.8,412.9 487.6,417.7 479.5,422.6 468.1,417.7 460.0,416.1 451.0,409.6 447.8,407.2 438.8,410.4 422.5,417.7 404.6,424.2 389.8,431.0 405.6,420.5" fill="url(#hatch)"/>
<polygon points="490.0,353.3 494.7,351.3 500.7,355.9 507.3,361.9 503.3,366.6 498.0,369.3 490.0,371.9" fill="#2256ab"/>
<polygon points="490.0,353.3 494.7,351.3 500.7,355.9 507.3,361.9 503.3,366.6 498.0,369.3 490.0,371.9" fill="url(#hatch)"/>
<polygon points="491.3,377.3 506.0,368.6 510.0,371.9 504.7,378.6 496.7,379.9" fill="#2256ab"/>
<polygon points="491.3,377.3 506.0,368.6 510.0,371.9 504.7,378.6 496.7,379.9" fill="url(#hatch)"/>
<polygon points="511.3,365.3 520.6,361.9 528.6,361.3 530.6,363.9 523.3,367.9 515.3,373.3 512.0,371.9" fill="#2256ab"/>
<polygon points="511.3,365.3 520.6,361.9 528.6,361.3 530.6,363.9 523.3,367.9 515.3,373.3 512.0,371.9" fill="url(#hatch)"/>
<polygon points="534.0,359.9 548.6,352.6 557.9,348.6 561.9,350.6 559.3,353.3 547.3,358.6 536.6,365.3" fill="#2256ab"/>
<polygon points="534.0,359.9 548.6,352.6 557.9,348.6 561.9,350.6 559.3,353.3 547.3,358.6 536.6,365.3" fill="url(#hatch)"/>
<polygon points="569.2,328.6 575.2,321.3 583.2,315.3 587.2,314.0 591.9,314.7 592.6,309.3 596.6,304.0 600.5,300.0 596.5,297.3 608.5,302.7 607.2,317.3 601.9,320.0 593.9,333.3 591.2,334.6 583.2,337.3 577.2,340.0 576.6,344.0 573.9,343.3 571.9,336.6 569.2,333.3" fill="#2256ab"/>
<polygon points="569.2,328.6 575.2,321.3 583.2,315.3 587.2,314.0 591.9,314.7 592.6,309.3 596.6,304.0 600.5,300.0 596.5,297.3 608.5,302.7 607.2,317.3 601.9,320.0 593.9,333.3 591.2,334.6 583.2,337.3 577.2,340.0 576.6,344.0 573.9,343.3 571.9,336.6 569.2,333.3" fill="url(#hatch)"/>
<polygon points="611.2,313.3 613.2,314.0 611.9,324.6 609.2,324.0" fill="#2256ab"/>
<polygon points="611.2,313.3 613.2,314.0 611.9,324.6 609.2,324.0" fill="url(#hatch)"/>
<polygon points="612.5,312.5 620.0,311.0 620.0,317.0 613.5,318.0" fill="#2256ab"/>
<polygon points="612.5,312.5 620.0,311.0 620.0,317.0 613.5,318.0" fill="url(#hatch)"/>
<polygon points="530.0,342.0 532.6,343.3 530.0,350.0 527.3,348.6" fill="#2256ab"/>
<polygon points="530.0,342.0 532.6,343.3 530.0,350.0 527.3,348.6" fill="url(#hatch)"/>
<polygon points="514.0,351.3 516.6,351.3 516.6,353.3 514.0,353.3" fill="#2256ab"/>
<polygon points="514.0,351.3 516.6,351.3 516.6,353.3 514.0,353.3" fill="url(#hatch)"/>
<polygon points="506.6,317.3 508.6,317.3 508.6,320.6 506.6,320.6" fill="#2256ab"/>
<polygon points="506.6,317.3 508.6,317.3 508.6,320.6 506.6,320.6" fill="url(#hatch)"/>
<polygon points="567.2,346.0 570.0,346.0 570.0,348.6 567.2,348.6" fill="#2256ab"/>
<polygon points="567.2,346.0 570.0,346.0 570.0,348.6 567.2,348.6" fill="url(#hatch)"/>
<polygon points="597.5,192.5 601.3,190.6 603.3,195.4 606.2,188.7 611.0,187.7 611.0,195.4 609.0,205.0 611.9,216.5 611.0,228.0 611.0,237.7 618.7,239.6 644.6,239.6 656.2,245.4 652.3,256.9 656.2,260.8 652.3,262.7 642.7,256.0 640.8,260.8 649.4,264.6 651.3,280.0 648.5,281.9 647.5,293.5 638.8,295.4 631.2,291.5 625.4,293.5 623.5,285.8 622.5,276.2 613.8,276.2 611.9,269.4 600.4,270.4 598.5,264.6 592.7,260.8 588.8,255.0 596.5,241.5 600.4,233.8 596.5,220.4 598.5,210.8 599.4,201.2" fill="#2256ab"/>
<polygon points="597.5,192.5 601.3,190.6 603.3,195.4 606.2,188.7 611.0,187.7 611.0,195.4 609.0,205.0 611.9,216.5 611.0,228.0 611.0,237.7 618.7,239.6 644.6,239.6 656.2,245.4 652.3,256.9 656.2,260.8 652.3,262.7 642.7,256.0 640.8,260.8 649.4,264.6 651.3,280.0 648.5,281.9 647.5,293.5 638.8,295.4 631.2,291.5 625.4,293.5 623.5,285.8 622.5,276.2 613.8,276.2 611.9,269.4 600.4,270.4 598.5,264.6 592.7,260.8 588.8,255.0 596.5,241.5 600.4,233.8 596.5,220.4 598.5,210.8 599.4,201.2" fill="url(#hatch)"/>
<polygon points="582.1,243.5 585.0,243.5 585.0,246.3 582.1,246.3" fill="#2256ab"/>
<polygon points="582.1,243.5 585.0,243.5 585.0,246.3 582.1,246.3" fill="url(#hatch)"/>
<polygon points="589.0,267.5 591.7,268.0 590.0,272.3 587.5,272.0" fill="#2256ab"/>
<polygon points="589.0,267.5 591.7,268.0 590.0,272.3 587.5,272.0" fill="url(#hatch)"/>
<polygon points="582.0,267.0 584.0,267.0 584.0,269.5 582.0,269.5" fill="#2256ab"/>
<polygon points="582.0,267.0 584.0,267.0 584.0,269.5 582.0,269.5" fill="url(#hatch)"/>
<polygon points="571.5,280.0 574.4,281.0 573.5,282.5 571.0,281.5" fill="#2256ab"/>
<polygon points="571.5,280.0 574.4,281.0 573.5,282.5 571.0,281.5" fill="url(#hatch)"/>
<polygon points="611.9,292.5 615.8,292.5 615.8,295.4 611.9,295.4" fill="#2256ab"/>
<polygon points="611.9,292.5 615.8,292.5 615.8,295.4 611.9,295.4" fill="url(#hatch)"/>
<polygon points="622.5,301.2 628.0,302.0 631.2,308.0 623.0,308.0" fill="#2256ab"/>
<polygon points="622.5,301.2 628.0,302.0 631.2,308.0 623.0,308.0" fill="url(#hatch)"/>
<polygon points="668.8,270.4 674.6,268.5 690.0,272.3 694.8,276.2 692.9,281.0 689.0,282.0 688.0,292.5 678.5,295.4 671.7,299.2 667.0,296.3 663.0,293.5 668.8,283.8 669.8,278.0 667.9,272.3" fill="#2256ab"/>
<polygon points="668.8,270.4 674.6,268.5 690.0,272.3 694.8,276.2 692.9,281.0 689.0,282.0 688.0,292.5 678.5,295.4 671.7,299.2 667.0,296.3 663.0,293.5 668.8,283.8 669.8,278.0 667.9,272.3" fill="url(#hatch)"/>
<polygon points="706.3,239.6 716.9,236.7 724.6,237.7 731.3,242.5 720.8,248.3 716.9,255.0 703.5,251.2 701.5,246.3 706.3,245.4" fill="#2256ab"/>
<polygon points="706.3,239.6 716.9,236.7 724.6,237.7 731.3,242.5 720.8,248.3 716.9,255.0 703.5,251.2 701.5,246.3 706.3,245.4" fill="url(#hatch)"/>
<polygon points="698.7,242.5 701.5,242.5 701.5,246.3 698.7,246.3" fill="#2256ab"/>
<polygon points="698.7,242.5 701.5,242.5 701.5,246.3 698.7,246.3" fill="url(#hatch)"/>
<polygon points="732.3,212.7 740.0,208.8 744.8,213.7 754.4,212.7 753.5,218.5 744.8,226.2 740.0,223.3 736.2,220.4 733.3,220.4" fill="#2256ab"/>
<polygon points="732.3,212.7 740.0,208.8 744.8,213.7 754.4,212.7 753.5,218.5 744.8,226.2 740.0,223.3 736.2,220.4 733.3,220.4" fill="url(#hatch)"/>
<polygon points="700.0,215.6 703.0,216.0 701.5,220.0 704.4,222.0 701.0,226.2 698.0,222.0 700.0,220.0" fill="#2256ab"/>
<polygon points="700.0,215.6 703.0,216.0 701.5,220.0 704.4,222.0 701.0,226.2 698.0,222.0 700.0,220.0" fill="url(#hatch)"/>
<polygon points="697.7,294.0 706.3,292.5 705.0,297.3 699.0,297.0" fill="#2256ab"/>
<polygon points="697.7,294.0 706.3,292.5 705.0,297.3 699.0,297.0" fill="url(#hatch)"/>
<polygon points="890.0,259.0 910.6,254.3 914.6,267.0 918.6,271.6 915.9,275.0 894.6,276.3 895.3,278.3 922.6,278.3 920.6,271.6 925.2,266.3 929.2,268.3 932.6,276.3 933.9,280.3 922.6,285.0 923.9,290.3 938.6,289.0 943.9,292.3 938.6,298.3 931.9,303.6 929.2,306.3 930.6,311.6 913.3,314.2 900.0,315.6 894.6,311.6 893.3,314.2 905.3,319.6 909.3,324.9 905.3,326.9 890.6,327.6 888.0,328.2 881.3,323.6 884.0,319.6 869.3,311.6 870.7,307.6 874.6,306.9 869.3,283.6 866.6,279.0 869.3,277.0 873.3,281.6 888.0,283.6 889.3,277.0" fill="#2256ab"/>
<polygon points="890.0,259.0 910.6,254.3 914.6,267.0 918.6,271.6 915.9,275.0 894.6,276.3 895.3,278.3 922.6,278.3 920.6,271.6 925.2,266.3 929.2,268.3 932.6,276.3 933.9,280.3 922.6,285.0 923.9,290.3 938.6,289.0 943.9,292.3 938.6,298.3 931.9,303.6 929.2,306.3 930.6,311.6 913.3,314.2 900.0,315.6 894.6,311.6 893.3,314.2 905.3,319.6 909.3,324.9 905.3,326.9 890.6,327.6 888.0,328.2 881.3,323.6 884.0,319.6 869.3,311.6 870.7,307.6 874.6,306.9 869.3,283.6 866.6,279.0 869.3,277.0 873.3,281.6 888.0,283.6 889.3,277.0" fill="url(#hatch)"/>
<polygon points="929.2,306.3 939.9,302.3 946.6,301.0 953.2,311.6 957.9,312.9 957.2,316.2 947.2,315.6 940.0,306.0" fill="#2256ab"/>
<polygon points="929.2,306.3 939.9,302.3 946.6,301.0 953.2,311.6 957.9,312.9 957.2,316.2 947.2,315.6 940.0,306.0" fill="url(#hatch)"/>
<polygon points="932.6,307.6 939.9,317.6 947.9,323.6 948.6,326.9 939.9,330.2 931.9,328.2 923.9,326.9 917.3,324.9 922.6,320.2 927.9,317.6 931.9,314.2" fill="#2256ab"/>
<polygon points="932.6,307.6 939.9,317.6 947.9,323.6 948.6,326.9 939.9,330.2 931.9,328.2 923.9,326.9 917.3,324.9 922.6,320.2 927.9,317.6 931.9,314.2" fill="url(#hatch)"/>
<polygon points="954.5,298.3 959.2,306.3 957.2,306.9 953.9,299.6" fill="#2256ab"/>
<polygon points="954.5,298.3 959.2,306.3 957.2,306.9 953.9,299.6" fill="url(#hatch)"/>
<polygon points="881.5,268.3 884.9,268.3 884.9,270.8 881.5,270.8" fill="#2256ab"/>
<polygon points="881.5,268.3 884.9,268.3 884.9,270.8 881.5,270.8" fill="url(#hatch)"/>
<polygon points="933.4,259.8 937.6,261.0 936.0,263.5 933.0,262.5" fill="#2256ab"/>
<polygon points="933.4,259.8 937.6,261.0 936.0,263.5 933.0,262.5" fill="url(#hatch)"/>
<polygon points="969.1,312.5 972.0,313.0 973.4,317.6 970.0,317.0" fill="#2256ab"/>
<polygon points="969.1,312.5 972.0,313.0 973.4,317.6 970.0,317.0" fill="url(#hatch)"/>
<polygon points="394.5,293.5 397.0,293.0 398.8,295.5 396.5,296.3" fill="#2256ab"/>
<polygon points="394.5,293.5 397.0,293.0 398.8,295.5 396.5,296.3" fill="url(#hatch)"/>
<polygon points="397.6,311.2 400.6,312.4 406.1,309.4 402.4,317.9 401.2,317.3 400.6,313.6 397.6,313.0" fill="#2256ab"/>
<polygon points="397.6,311.2 400.6,312.4 406.1,309.4 402.4,317.9 401.2,317.3 400.6,313.6 397.6,313.0" fill="url(#hatch)"/>
<polygon points="434.0,316.0 436.4,316.0 436.4,318.5 434.0,318.5" fill="#2256ab"/>
<polygon points="434.0,316.0 436.4,316.0 436.4,318.5 434.0,318.5" fill="url(#hatch)"/>
<polygon points="417.0,320.9 419.4,320.9 419.4,322.7 417.0,322.7" fill="#2256ab"/>
<polygon points="417.0,320.9 419.4,320.9 419.4,322.7 417.0,322.7" fill="url(#hatch)"/>
<polygon points="406.7,333.6 410.3,331.8 416.4,334.8 411.5,338.5 407.3,336.1" fill="#2256ab"/>
<polygon points="406.7,333.6 410.3,331.8 416.4,334.8 411.5,338.5 407.3,336.1" fill="url(#hatch)"/>
<polygon points="415.8,328.2 420.0,328.2 420.0,331.2 415.8,331.2" fill="#2256ab"/>
<polygon points="415.8,328.2 420.0,328.2 420.0,331.2 415.8,331.2" fill="url(#hatch)"/>
<polygon points="419.4,336.0 424.0,333.0 424.8,334.5 420.5,337.0" fill="#2256ab"/>
<polygon points="419.4,336.0 424.0,333.0 424.8,334.5 420.5,337.0" fill="url(#hatch)"/>
<polygon points="426.0,334.0 429.0,333.6 431.0,337.0 428.0,338.5" fill="#2256ab"/>
<polygon points="426.0,334.0 429.0,333.6 431.0,337.0 428.0,338.5" fill="url(#hatch)"/>
<polygon points="411.5,326.4 414.0,326.4 414.0,327.6 411.5,327.6" fill="#2256ab"/>
<polygon points="411.5,326.4 414.0,326.4 414.0,327.6 411.5,327.6" fill="url(#hatch)"/>
<polygon points="449.7,346.0 462.0,340.3 463.6,342.0 451.0,347.0" fill="#2256ab"/>
<polygon points="449.7,346.0 462.0,340.3 463.6,342.0 451.0,347.0" fill="url(#hatch)"/>
<polygon points="458.8,336.0 462.0,331.2 466.0,334.0 472.0,332.0 478.2,331.5 477.0,338.0 470.0,342.0 462.0,340.0" fill="#2256ab"/>
<polygon points="458.8,336.0 462.0,331.2 466.0,334.0 472.0,332.0 478.2,331.5 477.0,338.0 470.0,342.0 462.0,340.0" fill="url(#hatch)"/>
<polygon points="453.3,330.0 455.8,330.0 455.8,333.0 453.3,333.0" fill="#2256ab"/>
<polygon points="453.3,330.0 455.8,330.0 455.8,333.0 453.3,333.0" fill="url(#hatch)"/>
<polygon points="435.8,348.5 438.0,348.2 440.6,351.5 438.5,351.8" fill="#2256ab"/>
<polygon points="435.8,348.5 438.0,348.2 440.6,351.5 438.5,351.8" fill="url(#hatch)"/>
<polygon points="466.1,348.2 469.7,348.2 469.7,350.6 466.1,350.6" fill="#2256ab"/>
<polygon points="466.1,348.2 469.7,348.2 469.7,350.6 466.1,350.6" fill="url(#hatch)"/>
<polygon points="472.1,347.0 478.0,346.4 479.4,352.0 476.0,356.7 473.0,355.0" fill="#2256ab"/>
<polygon points="472.1,347.0 478.0,346.4 479.4,352.0 476.0,356.7 473.0,355.0" fill="url(#hatch)"/>
<polygon points="483.0,341.5 488.5,341.5 488.5,344.0 483.0,344.0" fill="#2256ab"/>
<polygon points="483.0,341.5 488.5,341.5 488.5,344.0 483.0,344.0" fill="url(#hatch)"/>
<polygon points="292.2,290.0 297.8,290.0 297.8,293.3 292.2,293.3" fill="#2256ab"/>
<polygon points="292.2,290.0 297.8,290.0 297.8,293.3 292.2,293.3" fill="url(#hatch)"/>
<polygon points="282.2,308.3 284.4,308.3 284.4,310.0 282.2,310.0" fill="#2256ab"/>
<polygon points="282.2,308.3 284.4,308.3 284.4,310.0 282.2,310.0" fill="url(#hatch)"/>
<polygon points="281.1,324.5 290.0,322.8 291.1,324.5 282.0,326.7" fill="#2256ab"/>
<polygon points="281.1,324.5 290.0,322.8 291.1,324.5 282.0,326.7" fill="url(#hatch)"/>
<polygon points="312.2,328.0 316.0,326.7 318.0,330.0 321.7,333.5 318.0,335.6 314.0,331.0" fill="#2256ab"/>
<polygon points="312.2,328.0 316.0,326.7 318.0,330.0 321.7,333.5 318.0,335.6 314.0,331.0" fill="url(#hatch)"/>
<polygon points="329.4,337.8 332.2,337.8 332.2,342.8 329.4,342.8" fill="#2256ab"/>
<polygon points="329.4,337.8 332.2,337.8 332.2,342.8 329.4,342.8" fill="url(#hatch)"/>
<polygon points="337.8,343.9 339.4,343.9 339.4,347.8 337.8,347.8" fill="#2256ab"/>
<polygon points="337.8,343.9 339.4,343.9 339.4,347.8 337.8,347.8" fill="url(#hatch)"/>
<polygon points="353.3,338.3 356.7,338.3 356.7,341.1 353.3,341.1" fill="#2256ab"/>
<polygon points="353.3,338.3 356.7,338.3 356.7,341.1 353.3,341.1" fill="url(#hatch)"/>
<polygon points="288.9,280.0 294.4,280.0 294.4,281.7 288.9,281.7" fill="#2256ab"/>
<polygon points="288.9,280.0 294.4,280.0 294.4,281.7 288.9,281.7" fill="url(#hatch)"/>
<polygon points="282.2,308.1 284.4,308.1 284.4,309.6 282.2,309.6" fill="#2256ab"/>
<polygon points="282.2,308.1 284.4,308.1 284.4,309.6 282.2,309.6" fill="url(#hatch)"/>
<polygon points="281.4,325.0 290.0,323.7 291.0,326.0 282.0,327.4" fill="#2256ab"/>
<polygon points="281.4,325.0 290.0,323.7 291.0,326.0 282.0,327.4" fill="url(#hatch)"/>
<polygon points="511.1,200.8 522.4,196.6 530.9,198.0 526.7,200.8 518.2,209.3 515.4,206.5" fill="#2256ab"/>
<polygon points="511.1,200.8 522.4,196.6 530.9,198.0 526.7,200.8 518.2,209.3 515.4,206.5" fill="url(#hatch)"/>
<polygon points="509.7,216.4 512.5,216.4 512.5,219.2 509.7,219.2" fill="#2256ab"/>
<polygon points="509.7,216.4 512.5,216.4 512.5,219.2 509.7,219.2" fill="url(#hatch)"/>
<polygon points="513.9,229.1 515.5,229.0 518.2,236.0 516.5,236.2" fill="#2256ab"/>
<polygon points="513.9,229.1 515.5,229.0 518.2,236.0 516.5,236.2" fill="url(#hatch)"/>
<polygon points="489.0,269.0 491.5,269.0 491.5,271.5 489.0,271.5" fill="#2256ab"/>
<polygon points="489.0,269.0 491.5,269.0 491.5,271.5 489.0,271.5" fill="url(#hatch)"/>
<polygon points="696.3,161.2 699.2,161.2 699.2,164.0 696.3,164.0" fill="#2256ab"/>
<polygon points="696.3,161.2 699.2,161.2 699.2,164.0 696.3,164.0" fill="url(#hatch)"/>
<polygon points="581.8,243.2 584.6,243.2 584.6,246.1 581.8,246.1" fill="#2256ab"/>
<polygon points="581.8,243.2 584.6,243.2 584.6,246.1 581.8,246.1" fill="url(#hatch)"/>
<polygon points="587.5,272.9 590.0,267.3 591.7,268.0 589.5,272.9" fill="#2256ab"/>
<polygon points="587.5,272.9 590.0,267.3 591.7,268.0 589.5,272.9" fill="url(#hatch)"/>
<polygon points="571.0,279.0 573.5,279.0 573.5,281.0 571.0,281.0" fill="#2256ab"/>
<polygon points="571.0,279.0 573.5,279.0 573.5,281.0 571.0,281.0" fill="url(#hatch)"/>
<polygon points="611.5,292.7 615.7,292.7 615.7,295.0 611.5,295.0" fill="#2256ab"/>
<polygon points="611.5,292.7 615.7,292.7 615.7,295.0 611.5,295.0" fill="url(#hatch)"/>
<polygon points="617.2,311.1 620.0,311.1 620.0,318.2 617.2,318.2" fill="#2256ab"/>
<polygon points="617.2,311.1 620.0,311.1 620.0,318.2 617.2,318.2" fill="url(#hatch)"/>
<polygon points="648.3,308.3 651.1,308.3 651.1,312.5 648.3,312.5" fill="#2256ab"/>
<polygon points="648.3,308.3 651.1,308.3 651.1,312.5 648.3,312.5" fill="url(#hatch)"/>
<polygon points="518.0,281.0 520.0,281.0 520.0,283.0 518.0,283.0" fill="#2256ab"/>
<polygon points="518.0,281.0 520.0,281.0 520.0,283.0 518.0,283.0" fill="url(#hatch)"/>
<polygon points="838.5,166.5 842.3,166.5 842.3,169.0 838.5,169.0" fill="#2256ab"/>
<polygon points="838.5,166.5 842.3,166.5 842.3,169.0 838.5,169.0" fill="url(#hatch)"/>
<polygon points="843.5,184.2 846.6,184.2 846.6,188.0 843.5,188.0" fill="#2256ab"/>
<polygon points="843.5,184.2 846.6,184.2 846.6,188.0 843.5,188.0" fill="url(#hatch)"/>
<polygon points="881.4,193.0 884.0,193.5 885.2,200.6 883.0,200.6" fill="#2256ab"/>
<polygon points="881.4,193.0 884.0,193.5 885.2,200.6 883.0,200.6" fill="url(#hatch)"/>
<polygon points="870.0,209.4 873.3,209.4 873.3,212.0 870.0,212.0" fill="#2256ab"/>
<polygon points="870.0,209.4 873.3,209.4 873.3,212.0 870.0,212.0" fill="url(#hatch)"/>
<polygon points="813.2,258.7 815.8,258.7 815.8,261.2 813.2,261.2" fill="#2256ab"/>
<polygon points="813.2,258.7 815.8,258.7 815.8,261.2 813.2,261.2" fill="url(#hatch)"/>
<polygon points="881.4,268.8 885.2,268.8 885.2,270.8 881.4,270.8" fill="#2256ab"/>
<polygon points="881.4,268.8 885.2,268.8 885.2,270.8 881.4,270.8" fill="url(#hatch)"/>
<polygon points="933.2,260.0 938.2,260.0 938.2,263.7 933.2,263.7" fill="#2256ab"/>
<polygon points="933.2,260.0 938.2,260.0 938.2,263.7 933.2,263.7" fill="url(#hatch)"/>
<polygon points="950.9,199.3 954.6,201.9 953.4,206.9 951.0,205.0" fill="#2256ab"/>
<polygon points="950.9,199.3 954.6,201.9 953.4,206.9 951.0,205.0" fill="url(#hatch)"/>
<polygon points="958.4,199.3 964.7,201.9 962.2,212.0 958.4,210.7" fill="#2256ab"/>
<polygon points="958.4,199.3 964.7,201.9 962.2,212.0 958.4,210.7" fill="url(#hatch)"/>
<polygon points="260.0,321.5 261.5,321.5 261.5,323.0 260.0,323.0" fill="#f85512"/>
<polygon points="260.0,321.5 261.5,321.5 261.5,323.0 260.0,323.0" fill="url(#hatch)"/>
<polygon points="262.0,348.0 263.5,348.0 263.5,349.5 262.0,349.5" fill="#f85512"/>
<polygon points="262.0,348.0 263.5,348.0 263.5,349.5 262.0,349.5" fill="url(#hatch)"/>
<polygon points="262.5,364.5 264.5,364.5 264.5,366.0 262.5,366.0" fill="#f85512"/>
<polygon points="262.5,364.5 264.5,364.5 264.5,366.0 262.5,366.0" fill="url(#hatch)"/>
<polygon points="275.0,374.0 276.5,374.0 276.5,377.5 275.0,377.5" fill="#f85512"/>
<polygon points="275.0,374.0 276.5,374.0 276.5,377.5 275.0,377.5" fill="url(#hatch)"/>
<polygon points="436.9,237.2 440.9,234.8 438.5,241.3 436.9,241.7 436.1,239.3" fill="#2256ab"/>
<polygon points="436.9,237.2 440.9,234.8 438.5,241.3 436.9,241.7 436.1,239.3" fill="url(#hatch)"/>
<polygon points="440.9,243.7 445.0,241.7 446.6,243.7 446.6,251.9 445.0,253.5 443.8,251.1 444.2,245.4 440.9,245.8" fill="#2256ab"/>
<polygon points="440.9,243.7 445.0,241.7 446.6,243.7 446.6,251.9 445.0,253.5 443.8,251.1 444.2,245.4 440.9,245.8" fill="url(#hatch)"/>
<polygon points="431.2,256.8 433.6,252.3 439.3,253.1 446.6,252.3 445.8,253.9 438.9,259.2 433.6,259.2" fill="#2256ab"/>
<polygon points="431.2,256.8 433.6,252.3 439.3,253.1 446.6,252.3 445.8,253.9 438.9,259.2 433.6,259.2" fill="url(#hatch)"/>
<polygon points="419.8,253.9 422.2,253.1 427.1,256.8 430.4,260.0 429.5,264.9 425.5,265.7 424.7,261.6 420.6,257.6" fill="#2256ab"/>
<polygon points="419.8,253.9 422.2,253.1 427.1,256.8 430.4,260.0 429.5,264.9 425.5,265.7 424.7,261.6 420.6,257.6" fill="url(#hatch)"/>
<polygon points="416.9,260.0 419.0,259.6 423.4,264.9 423.0,267.3 419.0,266.5 416.5,262.5" fill="#2256ab"/>
<polygon points="416.9,260.0 419.0,259.6 423.4,264.9 423.0,267.3 419.0,266.5 416.5,262.5" fill="url(#hatch)"/>
<polygon points="434.4,260.0 441.8,267.3 440.5,268.2 433.6,260.8" fill="#2256ab"/>
<polygon points="434.4,260.0 441.8,267.3 440.5,268.2 433.6,260.8" fill="url(#hatch)"/>
<polygon points="444.2,256.4 448.7,257.2 448.3,258.8 445.8,259.2 445.8,261.2 444.2,261.2" fill="#2256ab"/>
<polygon points="444.2,256.4 448.7,257.2 448.3,258.8 445.8,259.2 445.8,261.2 444.2,261.2" fill="url(#hatch)"/>
<polygon points="446.6,266.1 452.3,264.5 454.4,264.9 455.2,271.4 449.9,273.9 449.1,269.0" fill="#2256ab"/>
<polygon points="446.6,266.1 452.3,264.5 454.4,264.9 455.2,271.4 449.9,273.9 449.1,269.0" fill="url(#hatch)"/>
<polygon points="467.8,230.5 470.0,229.9 470.0,233.1 468.0,233.0" fill="#2256ab"/>
<polygon points="467.8,230.5 470.0,229.9 470.0,233.1 468.0,233.0" fill="url(#hatch)"/>
<polygon points="343.3,330.4 354.8,330.4 355.8,338.0 343.3,338.0" fill="#2256ab"/>
<polygon points="343.3,330.4 354.8,330.4 355.8,338.0 343.3,338.0" fill="url(#hatch)"/>
<polygon points="363.5,332.3 370.2,333.3 378.8,340.0 382.7,345.0 363.5,345.0" fill="#2256ab"/>
<polygon points="363.5,332.3 370.2,333.3 378.8,340.0 382.7,345.0 363.5,345.0" fill="url(#hatch)"/>
<polygon points="770.0,137.0 774.0,135.5 775.0,138.5 771.0,140.6" fill="#2256ab"/>
<polygon points="770.0,137.0 774.0,135.5 775.0,138.5 771.0,140.6" fill="url(#hatch)"/>
<polygon points="401.0,355.0 405.0,354.5 409.0,360.0 407.0,367.0 402.0,366.0" fill="#2256ab"/>
<polygon points="401.0,355.0 405.0,354.5 409.0,360.0 407.0,367.0 402.0,366.0" fill="url(#hatch)"/>
<polygon points="410.0,362.0 416.0,360.5 422.0,366.0 420.0,369.0 411.0,367.0" fill="#2256ab"/>
<polygon points="410.0,362.0 416.0,360.5 422.0,366.0 420.0,369.0 411.0,367.0" fill="url(#hatch)"/>
<polygon points="427.0,369.5 432.0,368.5 434.0,373.0 429.0,374.0" fill="#2256ab"/>
<polygon points="427.0,369.5 432.0,368.5 434.0,373.0 429.0,374.0" fill="url(#hatch)"/>
<polygon points="380.0,340.0 384.0,341.0 386.0,347.0 381.0,349.0" fill="#2256ab"/>
<polygon points="380.0,340.0 384.0,341.0 386.0,347.0 381.0,349.0" fill="url(#hatch)"/>
<polygon points="307.0,190.0 309.0,190.0 309.5,203.0 307.5,203.0" fill="#2256ab"/>
<polygon points="307.0,190.0 309.0,190.0 309.5,203.0 307.5,203.0" fill="url(#hatch)"/>
<polygon points="303.0,153.0 304.5,152.8 309.4,161.0 308.0,161.5" fill="#2256ab"/>
<polygon points="303.0,153.0 304.5,152.8 309.4,161.0 308.0,161.5" fill="url(#hatch)"/>
<polygon points="295.5,236.5 297.5,236.5 297.5,238.5 295.5,238.5" fill="#2256ab"/>
<polygon points="295.5,236.5 297.5,236.5 297.5,238.5 295.5,238.5" fill="url(#hatch)"/>
<polygon points="288.2,276.4 292.0,276.4 292.0,278.5 288.2,278.5" fill="#2256ab"/>
<polygon points="288.2,276.4 292.0,276.4 292.0,278.5 288.2,278.5" fill="url(#hatch)"/>
<polygon points="291.5,289.3 296.0,289.3 296.0,291.5 291.5,291.5" fill="#2256ab"/>
<polygon points="291.5,289.3 296.0,289.3 296.0,291.5 291.5,291.5" fill="url(#hatch)"/>
<polygon points="604.2,240.6 607.1,243.5 602.3,253.0 594.6,256.0 593.7,251.2 598.5,244.4" fill="#fff"/>
<polygon points="630.0,285.0 640.0,284.0 648.0,283.0 646.0,290.0 634.0,291.0" fill="#fff"/>
<polyline points="288.9,350.2 340.7,384.2 360.9,398.1 402.9,424.4 412.0,430.0" fill="none" stroke="#f4f4f4" stroke-width="2.6" stroke-linejoin="round" stroke-linecap="round"/>
<polyline points="280.0,394.5 294.8,393.1 340.7,384.2" fill="none" stroke="#f4f4f4" stroke-width="2.2" stroke-linejoin="round" stroke-linecap="round"/>
<polyline points="340.7,384.2 333.3,356.1 330.0,335.0" fill="none" stroke="#f4f4f4" stroke-width="1.6" stroke-linejoin="round" stroke-linecap="round"/>
<polyline points="340.7,384.2 357.0,357.6 365.0,345.0" fill="none" stroke="#f4f4f4" stroke-width="1.6" stroke-linejoin="round" stroke-linecap="round"/>
<polyline points="340.7,384.2 330.7,404.7 323.5,440.2" fill="none" stroke="#f4f4f4" stroke-width="1.5" stroke-linejoin="round" stroke-linecap="round"/>
<polyline points="340.7,384.2 350.4,416.5 368.8,425.7" fill="none" stroke="#f4f4f4" stroke-width="1.5" stroke-linejoin="round" stroke-linecap="round"/>
<polyline points="340.7,384.2 371.7,391.6 400.0,382.0" fill="none" stroke="#f4f4f4" stroke-width="1.4" stroke-linejoin="round" stroke-linecap="round"/>
<polyline points="303.7,347.2 309.7,385.0 324.1,445.4" fill="none" stroke="#f4f4f4" stroke-width="1.5" stroke-linejoin="round" stroke-linecap="round"/>
<polyline points="311.0,399.0 328.8,405.6 339.2,407.1 359.9,397.5 371.7,391.6" fill="none" stroke="#f4f4f4" stroke-width="1.4" stroke-linejoin="round" stroke-linecap="round"/>
<polyline points="309.6,381.2 317.0,368.0 331.8,356.1 346.6,353.9 358.4,356.8 374.7,370.9" fill="none" stroke="#f4f4f4" stroke-width="1.4" stroke-linejoin="round" stroke-linecap="round"/>
<polyline points="309.6,381.2 311.0,399.0" fill="none" stroke="#f4f4f4" stroke-width="1.4" stroke-linejoin="round" stroke-linecap="round"/>
<polyline points="298.9,404.7 324.1,406.0 345.2,405.0" fill="none" stroke="#f4f4f4" stroke-width="1.2" stroke-linejoin="round" stroke-linecap="round"/>
<polyline points="303.0,441.5 363.5,446.7 370.0,449.0" fill="none" stroke="#f4f4f4" stroke-width="1.8" stroke-linejoin="round" stroke-linecap="round"/>
<polyline points="406.0,412.0 440.0,398.0 480.0,386.0 520.0,368.0 560.0,350.0" fill="none" stroke="#f4f4f4" stroke-width="1.6" stroke-linejoin="round" stroke-linecap="round"/>
<polyline points="406.3,420.0 446.0,408.0 500.0,383.0" fill="none" stroke="#f4f4f4" stroke-width="1.2" stroke-linejoin="round" stroke-linecap="round"/>
<polyline points="384.0,396.5 406.3,411.2 408.0,424.0" fill="none" stroke="#f4f4f4" stroke-width="1.4" stroke-linejoin="round" stroke-linecap="round"/>
<polyline points="437.2,378.7 450.0,366.0 460.0,350.0" fill="none" stroke="#f4f4f4" stroke-width="1.2" stroke-linejoin="round" stroke-linecap="round"/>
<polyline points="155.5,340.0 155.5,380.0 151.0,407.0" fill="none" stroke="#f4f4f4" stroke-width="1.6" stroke-linejoin="round" stroke-linecap="round"/>
<polyline points="150.0,337.0 230.0,373.0 262.0,385.0" fill="none" stroke="#f4f4f4" stroke-width="2.4" stroke-linejoin="round" stroke-linecap="round"/>
<polyline points="186.0,337.0 181.0,347.0" fill="none" stroke="#f4f4f4" stroke-width="1.6" stroke-linejoin="round" stroke-linecap="round"/>
<polyline points="164.0,350.0 170.0,368.0 173.0,407.0" fill="none" stroke="#f4f4f4" stroke-width="1.4" stroke-linejoin="round" stroke-linecap="round"/>
<polyline points="155.0,380.0 200.0,362.0 213.0,360.0" fill="none" stroke="#f4f4f4" stroke-width="1.4" stroke-linejoin="round" stroke-linecap="round"/>
<polyline points="201.0,361.0 205.0,380.0 210.6,404.0" fill="none" stroke="#f4f4f4" stroke-width="1.2" stroke-linejoin="round" stroke-linecap="round"/>
<polyline points="230.0,365.0 231.0,387.0 236.0,404.0" fill="none" stroke="#f4f4f4" stroke-width="1.2" stroke-linejoin="round" stroke-linecap="round"/>
<polyline points="320.0,55.0 318.0,95.0 317.0,140.0" fill="none" stroke="#f4f4f4" stroke-width="2.2" stroke-linejoin="round" stroke-linecap="round"/>
<polyline points="324.0,60.0 321.0,140.0" fill="none" stroke="#f4f4f4" stroke-width="1.0" stroke-linejoin="round" stroke-linecap="round"/>
<polyline points="318.4,90.4 327.3,91.2 331.7,96.6" fill="none" stroke="#f4f4f4" stroke-width="1.0" stroke-linejoin="round" stroke-linecap="round"/>
<polyline points="388.5,245.5 371.5,254.0 340.0,300.0 320.0,330.0" fill="none" stroke="#f4f4f4" stroke-width="1.8" stroke-linejoin="round" stroke-linecap="round"/>
<polyline points="376.0,260.0 372.0,252.0 378.0,247.0 386.0,249.0" fill="none" stroke="#f4f4f4" stroke-width="1.2" stroke-linejoin="round" stroke-linecap="round"/>
<polyline points="409.6,258.3 418.0,240.0 425.0,233.0" fill="none" stroke="#f4f4f4" stroke-width="1.2" stroke-linejoin="round" stroke-linecap="round"/>
<polyline points="886.6,255.6 888.0,283.6 885.3,298.3 886.0,311.6 889.3,327.6" fill="none" stroke="#f2f2f2" stroke-width="1.8" stroke-linejoin="round" stroke-linecap="round"/>
<polyline points="137.0,380.5 156.0,378.9" fill="none" stroke="#f4f4f4" stroke-width="1.4" stroke-linejoin="round" stroke-linecap="round"/>
<polyline points="606.0,240.0 612.0,252.0 630.0,255.0 640.0,263.0 646.0,276.0 649.0,290.0 662.0,296.0" fill="none" stroke="#d8d8d8" stroke-width="1.1" stroke-linejoin="round" stroke-linecap="round"/>
<polyline points="669.0,279.0 694.0,279.0" fill="none" stroke="#f4f4f4" stroke-width="1.3" stroke-linejoin="round" stroke-linecap="round"/>
<polyline points="672.0,288.0 682.0,284.0" fill="none" stroke="#f4f4f4" stroke-width="1.0" stroke-linejoin="round" stroke-linecap="round"/>
<circle cx="340.7" cy="384.2" r="3.2" fill="#f4f4f4"/><g id="legend">
<polygon points="713,470 968,470 968,541.5 763,541.5 748,510 730,483" fill="#fd391d"/>
<path d="M687.5,461.5 Q738,478 757,531" fill="none" stroke="#1a1a1a" stroke-width="5.6"/>
<polygon points="743.5,528 764.5,520.5 763,546.5" fill="#1a1a1a"/>
<text x="814.5" y="517.3" textLength="143" lengthAdjust="spacingAndGlyphs" font-family="Liberation Sans" font-style="italic" font-size="32" fill="#fff" stroke="#fff" stroke-width="0.35">més baixen</text>
<text x="777" y="534.3" textLength="179.5" lengthAdjust="spacingAndGlyphs" font-family="Liberation Sans" font-style="italic" font-size="13.3" fill="#fff">respecte les municipals de 2011</text>
<rect x="665" y="560.5" width="245" height="19.5" fill="#003a8c"/>
<rect x="913" y="560.5" width="55" height="19.5" fill="#003a8c"/>
<rect x="685.7" y="589.3" width="224.3" height="19.4" fill="#00a0e2"/>
<rect x="913" y="589.3" width="55" height="19.4" fill="#00a0e2"/>
<rect x="722" y="618.2" width="188" height="19.4" fill="#f2281c"/>
<rect x="913" y="618.2" width="55" height="19.4" fill="#f2281c"/>
<text x="611.8" y="576.7" textLength="44.5" lengthAdjust="spacingAndGlyphs" font-family="Liberation Sans" font-style="italic" font-size="16" fill="#333">-4.365</text>
<text x="644.5" y="606.5" textLength="38" lengthAdjust="spacingAndGlyphs" font-family="Liberation Sans" font-style="italic" font-size="15" fill="#555">-4.110</text>
<text x="674.9" y="633.5" textLength="38.5" lengthAdjust="spacingAndGlyphs" font-family="Liberation Sans" font-style="italic" font-size="15" fill="#555">-3.340</text>
<text x="931.5" y="577.7" textLength="25.5" lengthAdjust="spacingAndGlyphs" font-family="Liberation Sans" font-size="19.5" fill="#fff">ciu</text>
<circle cx="960.6" cy="564" r="2" fill="#f7941d"/>
<text x="929" y="605.8" textLength="33.5" lengthAdjust="spacingAndGlyphs" font-family="Liberation Sans" font-weight="bold" font-style="italic" font-size="12.5" fill="#fff">PP</text>
<path d="M934,595.5 Q941,591.5 948,594.5 Q955,591.5 962,594.5" fill="none" stroke="#fff" stroke-width="0.9"/>
<text x="930.7" y="634.8" textLength="31.7" lengthAdjust="spacingAndGlyphs" font-family="Liberation Sans" font-size="17.8" fill="#fff">PS<tspan font-weight="bold">C</tspan></text>
</g>
<g id="logo">
<defs>
<linearGradient id="lg1" x1="0" y1="0" x2="0" y2="1"><stop offset="0" stop-color="#9a9a9a"/><stop offset="0.5" stop-color="#8a8a8a"/><stop offset="0.5" stop-color="#6a6a6a"/><stop offset="1" stop-color="#555"/></linearGradient>
<linearGradient id="lg2" x1="0" y1="0" x2="0" y2="1"><stop offset="0" stop-color="#e8606e"/><stop offset="0.5" stop-color="#e03040"/><stop offset="0.5" stop-color="#d01828"/><stop offset="1" stop-color="#c0101c"/></linearGradient>
<radialGradient id="shd" cx="0.5" cy="0.5" r="0.5"><stop offset="0" stop-color="#bbb" stop-opacity="0.8"/><stop offset="1" stop-color="#fff" stop-opacity="0"/></radialGradient>
</defs>
<ellipse cx="683" cy="55" rx="16" ry="4" fill="url(#shd)"/>
<polygon points="663.1,51.2 665.6,48.7 668.1,49.2 670.6,47.2 668.1,44.1 671.6,37.1 673.2,36.8 677.2,39.6 679.7,37.1 685.3,37.6 686.8,36 690.3,38.1 690.8,41.1 696.4,42.1 697.4,45.6 690.8,48.7 678.2,51.7 670.6,54.2 668.1,57.8 664.1,55.2" fill="#d5101f"/>
<polygon points="671.6,37.1 673.2,36.8 677.2,39.6 679.7,37.1 685.3,37.6 686.8,36 690.3,38.1 690.8,41.1 696.4,42.1 697.4,45.6 672,40" fill="#e2506a" opacity="0.8"/>
<text x="699" y="58.8" textLength="172" lengthAdjust="spacingAndGlyphs" font-family="Liberation Sans" font-weight="bold" font-size="25" fill="url(#lg1)">TarragonaDiari</text>
<text x="870" y="58.8" textLength="50" lengthAdjust="spacingAndGlyphs" font-family="Liberation Sans" font-weight="bold" font-size="25" fill="url(#lg2)">.cat</text>
<text x="777.6" y="68.5" textLength="143.4" lengthAdjust="spacing" font-family="Liberation Sans" font-weight="bold" font-size="7" fill="#aaa">Edició Tarragonès de delCamp.cat</text>
<rect x="931.7" y="42" width="1" height="24.5" fill="#999"/>
<text x="944" y="53" font-family="Liberation Serif" font-style="italic" font-size="11" fill="#333" transform="rotate(-12 950 50)">Edu</text>
<text x="948" y="65" font-family="Liberation Serif" font-style="italic" font-size="11" fill="#333" transform="rotate(-12 955 62)">Polo</text>
</g>

</svg>
</div></body></html>
